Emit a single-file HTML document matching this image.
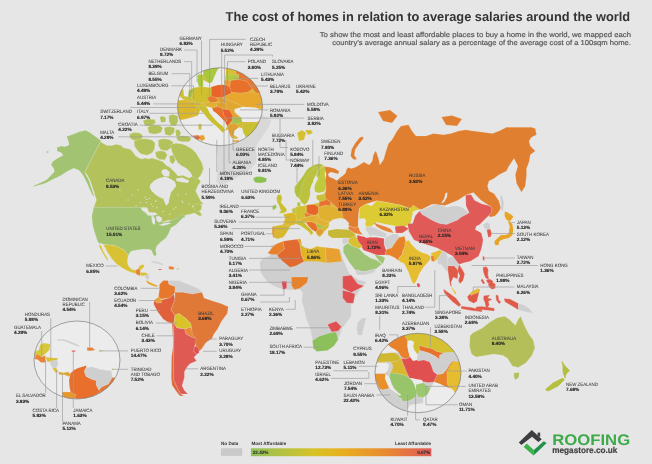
<!DOCTYPE html><html><head><meta charset="utf-8"><title>The cost of homes in relation to average salaries around the world</title><style>
html,body{margin:0;padding:0;background:#e6e6e6;}svg{display:block}
.n{font-family:"Liberation Sans",sans-serif;font-size:4.8px;fill:#3d3d3d;stroke:#3d3d3d;stroke-width:0.05}
.v{font-family:"Liberation Sans",sans-serif;font-size:4.7px;font-weight:bold;fill:#222;stroke:#222;stroke-width:0.12} text{text-rendering:geometricPrecision}
.ln{fill:none;stroke:#9a9a9a;stroke-width:0.65}
</style></head><body>
<svg width="652" height="464" viewBox="0 0 652 464">
<defs>
<clipPath id="ceu"><ellipse cx="220" cy="106.7" rx="42.5" ry="39"/></clipPath>
<clipPath id="cme"><ellipse cx="418" cy="373" rx="43" ry="39.7"/></clipPath>
<clipPath id="cca"><ellipse cx="77" cy="360" rx="43" ry="39"/></clipPath>
<linearGradient id="lg" x1="0" x2="1" y1="0" y2="0"><stop offset="0" stop-color="#8fc05a"/><stop offset="0.35" stop-color="#d8c228"/><stop offset="0.5" stop-color="#e8b020"/><stop offset="0.75" stop-color="#e88a30"/><stop offset="1" stop-color="#e05858"/></linearGradient>
</defs>
<rect width="652" height="464" fill="#e6e6e6"/>
<g stroke-linejoin="round">
<polygon points="66.6,136.4 71.7,134.7 78.6,132.1 85.5,130.3 89.0,132.0 94.1,135.5 101.0,140.7 84.7,172.6 87.2,176.9 89.0,180.3 90.7,185.5 92.4,190.7 94.1,195.9 93.0,196.0 90.0,190.0 87.0,183.0 84.0,177.0 81.0,172.5 78.6,170.0 73.4,168.3 70.0,170.0 66.6,171.7 61.4,175.2 56.2,177.8 51.0,180.3 45.9,183.0 40.7,184.7 37.2,185.5 33.8,186.4 33.5,185.5 37.0,184.2 42.0,182.0 47.0,179.5 49.3,176.9 54.5,171.7 53.6,168.3 51.0,164.8 52.8,161.4 57.9,157.9 63.1,155.3 61.4,152.8 57.0,151.0 57.0,147.6 61.4,145.9 64.8,146.7 69.1,145.0 68.3,140.7" fill="#a2c472" stroke="#f4f4f4" stroke-opacity="0.55" stroke-width="0.3"/>
<polygon points="46.5,151.5 48.5,151.0 48.5,152.8 46.8,153.0" fill="#a2c472" stroke="#f4f4f4" stroke-opacity="0.55" stroke-width="0.3"/>
<polygon points="101.0,140.7 101.5,142.5 106.8,145.5 111.6,145.5 116.3,144.3 121.1,145.5 123.4,147.8 127.0,148.4 130.5,149.6 132.9,152.0 135.3,155.5 138.8,157.9 142.4,159.1 144.8,157.9 148.3,159.1 151.9,157.9 155.4,159.1 159.0,160.3 162.5,161.5 166.8,165.8 169.8,167.3 172.8,170.3 175.8,173.3 178.0,176.0 182.7,175.3 189.0,178.0 194.3,175.3 197.0,177.0 200.8,181.8 198.2,185.0 195.6,190.9 198.2,196.0 200.8,201.2 203.4,203.8 199.5,205.1 194.3,205.1 191.7,206.4 197.0,209.0 200.8,212.9 202.1,215.5 199.5,216.1 194.3,212.9 190.5,214.2 186.6,214.8 182.7,216.7 178.8,218.0 175.0,219.3 172.3,220.6 168.4,220.2 162.6,222.0 159.7,224.0 154.8,218.3 152.0,214.4 149.0,212.5 147.0,207.6 93.7,207.6 95.0,204.0 96.5,200.0 95.5,197.0 94.0,192.0 92.0,186.0 90.0,180.0 87.0,174.5 84.7,172.6" fill="#b4c25c" stroke="#f4f4f4" stroke-opacity="0.55" stroke-width="0.3"/>
<polygon points="150.3,184.4 154.2,180.5 159.4,177.9 165.9,176.6 171.0,179.2 174.9,181.8 176.2,185.7 173.6,189.6 171.0,192.2 169.8,197.3 168.5,202.5 166.5,206.0 164.6,202.5 163.3,198.6 159.4,197.3 155.5,194.8 151.6,190.9 149.7,187.6" fill="#e6e6e6"/>
<polygon points="162.0,170.0 166.0,169.0 169.8,172.0 169.0,176.6 164.0,176.0 161.5,173.0" fill="#e6e6e6"/>
<polygon points="176.0,178.5 182.0,177.5 189.0,180.5 188.0,183.0 181.0,182.0 176.5,181.0" fill="#e6e6e6"/>
<polygon points="129.5,134.0 134.0,132.6 140.0,133.0 143.0,136.0 141.0,140.0 134.0,140.5 130.0,138.0" fill="#b4c25c" stroke="#f4f4f4" stroke-opacity="0.55" stroke-width="0.3"/>
<polygon points="134.0,141.0 140.0,139.0 146.0,138.7 152.0,140.0 155.0,143.0 154.5,149.0 152.0,153.0 147.0,155.3 141.0,154.0 137.0,150.0 134.5,146.0" fill="#b4c25c" stroke="#f4f4f4" stroke-opacity="0.55" stroke-width="0.3"/>
<polygon points="143.0,120.5 148.0,119.0 155.0,119.5 155.5,123.0 151.0,126.0 145.0,126.0" fill="#b4c25c" stroke="#f4f4f4" stroke-opacity="0.55" stroke-width="0.3"/>
<polygon points="159.7,117.0 163.0,116.0 166.0,118.0 165.5,122.0 161.0,122.5" fill="#b4c25c" stroke="#f4f4f4" stroke-opacity="0.55" stroke-width="0.3"/>
<polygon points="168.8,115.5 173.0,114.5 177.8,116.0 178.0,121.0 176.0,126.0 171.0,125.5 169.0,121.0" fill="#b4c25c" stroke="#f4f4f4" stroke-opacity="0.55" stroke-width="0.3"/>
<polygon points="147.6,127.0 153.0,125.0 160.0,125.5 162.7,128.0 161.0,132.5 155.0,134.2 149.0,133.0" fill="#b4c25c" stroke="#f4f4f4" stroke-opacity="0.55" stroke-width="0.3"/>
<polygon points="164.2,127.5 170.0,126.6 174.8,128.0 174.0,133.0 170.0,135.7 165.0,134.5" fill="#b4c25c" stroke="#f4f4f4" stroke-opacity="0.55" stroke-width="0.3"/>
<polygon points="175.5,130.0 179.0,129.6 180.8,133.0 179.5,137.2 176.0,136.0" fill="#b4c25c" stroke="#f4f4f4" stroke-opacity="0.55" stroke-width="0.3"/>
<polygon points="176.3,137.0 182.0,135.7 188.0,136.2 191.4,138.5 189.0,141.7 182.0,141.7 177.5,140.5" fill="#b4c25c" stroke="#f4f4f4" stroke-opacity="0.55" stroke-width="0.3"/>
<polygon points="158.2,140.0 163.0,138.7 169.0,139.5 173.3,142.0 172.0,147.0 167.0,150.8 161.0,150.0 158.5,146.0" fill="#b4c25c" stroke="#f4f4f4" stroke-opacity="0.55" stroke-width="0.3"/>
<polygon points="155.2,152.0 160.0,150.8 165.0,151.5 167.3,155.0 165.0,159.8 159.0,159.5 156.0,156.5" fill="#b4c25c" stroke="#f4f4f4" stroke-opacity="0.55" stroke-width="0.3"/>
<polygon points="170.3,144.5 176.0,143.2 182.0,144.0 187.0,146.0 192.0,149.0 196.0,153.0 199.0,158.0 202.0,163.0 203.5,169.0 201.0,175.0 197.0,179.4 193.0,177.0 190.0,172.0 186.0,168.0 182.0,166.0 178.0,163.0 175.0,158.0 172.0,152.0" fill="#b4c25c" stroke="#f4f4f4" stroke-opacity="0.55" stroke-width="0.3"/>
<polygon points="169.5,156.0 173.5,155.0 175.5,160.0 173.0,164.3 170.0,162.0" fill="#b4c25c" stroke="#f4f4f4" stroke-opacity="0.55" stroke-width="0.3"/>
<polygon points="145.9,197.3 145.6,197.8 144.8,197.8 144.5,197.3 144.8,196.8 145.6,196.8" fill="#e6e6e6"/>
<polygon points="147.2,202.5 146.8,203.0 146.2,203.0 145.8,202.5 146.2,202.0 146.8,202.0" fill="#e6e6e6"/>
<polygon points="149.7,198.6 149.3,199.1 148.7,199.1 148.3,198.6 148.7,198.1 149.3,198.1" fill="#e6e6e6"/>
<polygon points="153.7,206.4 153.3,206.9 152.7,206.9 152.3,206.4 152.7,205.9 153.3,205.9" fill="#e6e6e6"/>
<polygon points="156.2,201.2 155.8,201.7 155.2,201.7 154.8,201.2 155.2,200.7 155.8,200.7" fill="#e6e6e6"/>
<polygon points="157.5,207.7 157.2,208.2 156.4,208.2 156.1,207.7 156.4,207.2 157.2,207.2" fill="#e6e6e6"/>
<polygon points="164.0,211.6 163.7,212.1 162.9,212.1 162.6,211.6 162.9,211.1 163.7,211.1" fill="#e6e6e6"/>
<polygon points="170.5,214.2 170.2,214.7 169.4,214.7 169.1,214.2 169.4,213.7 170.2,213.7" fill="#e6e6e6"/>
<polygon points="174.3,209.0 173.9,209.5 173.2,209.5 172.9,209.0 173.2,208.5 173.9,208.5" fill="#e6e6e6"/>
<polygon points="183.4,202.5 183.1,203.0 182.3,203.0 182.0,202.5 182.3,202.0 183.1,202.0" fill="#e6e6e6"/>
<polygon points="189.9,203.8 189.6,204.3 188.8,204.3 188.5,203.8 188.8,203.3 189.6,203.3" fill="#e6e6e6"/>
<polygon points="136.7,205.7 136.3,206.2 135.7,206.2 135.3,205.7 135.7,205.2 136.3,205.2" fill="#e6e6e6"/>
<polygon points="141.3,202.7 140.9,203.2 140.2,203.2 139.9,202.7 140.2,202.2 140.9,202.2" fill="#e6e6e6"/>
<polygon points="147.4,199.6 147.1,200.1 146.3,200.1 146.0,199.6 146.3,199.1 147.1,199.1" fill="#e6e6e6"/>
<polygon points="152.0,204.2 151.7,204.7 150.9,204.7 150.6,204.2 150.9,203.7 151.7,203.7" fill="#e6e6e6"/>
<polygon points="156.7,201.1 156.3,201.6 155.7,201.6 155.3,201.1 155.7,200.6 156.3,200.6" fill="#e6e6e6"/>
<polygon points="162.7,198.0 162.3,198.5 161.7,198.5 161.3,198.0 161.7,197.5 162.3,197.5" fill="#e6e6e6"/>
<polygon points="168.9,202.7 168.6,203.2 167.8,203.2 167.5,202.7 167.8,202.2 168.6,202.2" fill="#e6e6e6"/>
<polygon points="176.6,207.3 176.2,207.8 175.6,207.8 175.2,207.3 175.6,206.8 176.2,206.8" fill="#e6e6e6"/>
<polygon points="182.7,201.1 182.3,201.6 181.7,201.6 181.3,201.1 181.7,200.6 182.3,200.6" fill="#e6e6e6"/>
<polygon points="128.7,200.0 128.3,200.5 127.7,200.5 127.3,200.0 127.7,199.5 128.3,199.5" fill="#e6e6e6"/>
<polygon points="132.7,195.0 132.3,195.5 131.7,195.5 131.3,195.0 131.7,194.5 132.3,194.5" fill="#e6e6e6"/>
<polygon points="120.7,190.0 120.3,190.5 119.7,190.5 119.3,190.0 119.7,189.5 120.3,189.5" fill="#e6e6e6"/>
<polygon points="138.7,190.0 138.3,190.5 137.7,190.5 137.3,190.0 137.7,189.5 138.3,189.5" fill="#e6e6e6"/>
<polygon points="178.7,195.0 178.3,195.5 177.7,195.5 177.3,195.0 177.7,194.5 178.3,194.5" fill="#e6e6e6"/>
<polygon points="186.7,194.0 186.3,194.5 185.7,194.5 185.3,194.0 185.7,193.5 186.3,193.5" fill="#e6e6e6"/>
<polygon points="93.7,207.3 140.6,207.3 142.1,210.3 145.2,212.6 150.0,213.5 157.5,214.5 160.0,217.0 162.0,220.0 162.5,222.6 169.8,221.0 177.4,218.0 181.0,214.5 183.6,215.0 185.5,217.5 183.3,217.5 179.2,221.6 176.1,224.7 171.0,227.8 168.9,232.9 165.9,238.0 160.7,242.1 156.6,246.2 155.6,250.3 156.6,254.4 154.6,256.5 152.5,253.0 151.5,250.3 148.4,249.3 142.3,249.3 136.1,250.3 131.6,250.9 129.5,253.1 128.4,255.8 127.3,254.2 124.1,249.9 120.9,248.8 117.6,246.6 114.4,245.5 104.7,244.5 98.2,242.8 95.7,235.7 92.8,226.0 91.8,216.3" fill="#a2c472" stroke="#f4f4f4" stroke-opacity="0.55" stroke-width="0.3"/>
<polygon points="145.5,213.0 150.0,212.3 156.0,212.8 157.5,214.5 153.0,215.7 148.0,215.5" fill="#e6e6e6"/>
<polygon points="151.3,216.5 153.5,216.0 155.0,219.0 155.0,223.5 153.5,225.0 152.0,222.0" fill="#e6e6e6"/>
<polygon points="156.0,216.5 159.0,216.0 162.0,218.0 161.5,221.5 158.5,222.6 156.5,220.0" fill="#e6e6e6"/>
<polygon points="158.5,225.0 163.0,223.5 168.0,222.5 171.3,223.0 168.0,224.5 163.0,225.7" fill="#e6e6e6"/>
<polygon points="103.1,244.5 114.4,245.5 117.6,246.6 120.9,248.8 124.1,249.9 127.3,254.2 128.4,255.8 127.9,257.4 127.3,261.7 128.4,266.0 131.6,269.3 136.0,270.3 138.1,268.7 139.2,266.0 142.4,264.4 144.6,264.9 143.5,267.6 140.3,270.3 138.1,272.5 136.0,273.6 131.6,272.5 126.3,270.3 120.9,267.1 116.6,263.9 113.3,260.6 110.1,256.3 107.4,252.0 105.2,247.7" fill="#d8c234" stroke="#f4f4f4" stroke-opacity="0.55" stroke-width="0.3"/>
<polygon points="98.8,243.4 101.5,246.6 103.6,252.0 106.9,257.4 108.5,260.6 106.9,260.1 104.2,255.8 101.5,250.9 99.3,246.6" fill="#d8c234" stroke="#f4f4f4" stroke-opacity="0.55" stroke-width="0.3"/>
<polygon points="136.0,270.3 138.1,268.7 140.3,270.3 140.3,275.7 137.5,275.0 135.5,273.2" fill="#e8843a" stroke="#f4f4f4" stroke-opacity="0.55" stroke-width="0.3"/>
<polygon points="140.3,272.5 145.6,272.5 148.9,274.6 144.6,275.7 140.3,275.7" fill="#d8c234" stroke="#f4f4f4" stroke-opacity="0.55" stroke-width="0.3"/>
<polygon points="144.6,275.2 148.9,274.6 149.4,279.0 146.7,279.5 145.1,277.3" fill="#cfcfcf" stroke="#f4f4f4" stroke-opacity="0.55" stroke-width="0.3"/>
<polygon points="146.2,280.0 150.0,282.2 154.3,284.3 157.5,285.4 157.0,287.0 153.2,286.0 148.9,284.3 146.7,282.2" fill="#e0a830" stroke="#f4f4f4" stroke-opacity="0.55" stroke-width="0.3"/>
<polygon points="150.9,261.5 154.0,260.8 158.0,261.8 162.0,263.2 163.8,264.6 162.0,265.2 158.0,264.0 154.0,263.0 151.0,262.6" fill="#d2d2d2" stroke="#f4f4f4" stroke-opacity="0.55" stroke-width="0.3"/>
<polygon points="168.6,266.6 171.5,266.2 174.6,267.5 173.5,269.4 170.0,269.4 168.6,268.5" fill="#e8843a" stroke="#f4f4f4" stroke-opacity="0.55" stroke-width="0.3"/>
<polygon points="158.4,269.0 161.6,268.9 161.6,270.0 158.4,270.0" fill="#e05060" stroke="#f4f4f4" stroke-opacity="0.55" stroke-width="0.3"/>
<polygon points="176.7,268.3 178.9,268.3 178.9,269.4 176.7,269.4" fill="#a8c870" stroke="#f4f4f4" stroke-opacity="0.55" stroke-width="0.3"/>
<polygon points="271.5,120.5 268.7,127.5 264.8,133.3 260.9,139.1 257.0,145.0 256.0,150.0 257.0,156.0 256.0,163.0 252.0,168.0 246.0,172.0 239.6,176.0 230.0,181.8 220.2,185.6 216.3,181.8 217.3,168.2 218.3,158.5 216.3,148.8 214.0,130.0 212.0,110.0 218.0,100.0 235.0,98.0 250.0,103.0 258.0,110.0 264.0,116.0" fill="#d8d8d8" stroke="#f4f4f4" stroke-opacity="0.55" stroke-width="0.3"/>
<polygon points="253.3,178.0 257.0,176.5 262.0,176.8 266.9,178.5 266.0,182.0 261.0,183.0 256.0,182.7 254.0,181.0" fill="#8cc050" stroke="#f4f4f4" stroke-opacity="0.55" stroke-width="0.3"/>
<polygon points="159.4,284.4 163.3,280.5 168.1,280.5 169.1,284.4 175.0,286.3 175.0,292.2 174.0,294.1 169.1,298.0 161.3,299.0 158.4,297.0 159.4,290.2" fill="#e6782c" stroke="#f4f4f4" stroke-opacity="0.55" stroke-width="0.3"/>
<polygon points="168.1,280.5 178.8,280.5 188.5,284.4 198.2,288.3 202.0,292.2 192.4,294.1 182.7,292.2 175.0,292.2 175.0,286.3 169.1,284.4" fill="#cfcfcf" stroke="#f4f4f4" stroke-opacity="0.55" stroke-width="0.3"/>
<polygon points="158.4,297.0 161.3,299.0 161.5,302.8 157.0,303.0 154.5,300.0" fill="#e4a030" stroke="#f4f4f4" stroke-opacity="0.55" stroke-width="0.3"/>
<polygon points="154.5,300.0 157.0,303.0 161.5,302.8 161.3,300.0 169.1,298.0 174.0,294.1 175.0,300.0 171.0,309.6 175.0,315.4 174.0,323.2 172.0,323.2 168.1,322.2 163.3,319.3 157.5,311.6 153.6,304.0" fill="#e0603c" stroke="#f4f4f4" stroke-opacity="0.55" stroke-width="0.3"/>
<polygon points="175.0,292.2 182.7,292.2 192.4,294.1 202.0,292.2 204.0,298.0 209.8,300.0 221.5,303.8 228.3,306.7 227.3,313.5 221.5,321.3 217.6,329.0 214.0,334.0 211.8,338.7 206.0,342.6 202.0,348.4 198.2,352.3 196.3,346.5 192.4,338.7 191.4,327.1 190.4,323.2 185.6,318.3 178.8,313.5 175.0,315.4 171.0,309.6 175.0,300.0" fill="#e07838" stroke="#f4f4f4" stroke-opacity="0.55" stroke-width="0.3"/>
<polygon points="175.0,315.4 178.8,313.5 185.6,318.3 190.4,323.2 191.4,327.1 184.6,329.0 176.9,328.0 174.0,323.2" fill="#d8c428" stroke="#f4f4f4" stroke-opacity="0.55" stroke-width="0.3"/>
<polygon points="184.6,329.0 191.4,327.1 192.4,334.0 196.0,338.7 191.4,337.0 186.0,334.0" fill="#e8883a" stroke="#f4f4f4" stroke-opacity="0.55" stroke-width="0.3"/>
<polygon points="194.5,346.0 198.0,347.0 199.2,352.6 196.6,354.6 193.5,351.0" fill="#e05050" stroke="#f4f4f4" stroke-opacity="0.55" stroke-width="0.3"/>
<polygon points="172.0,323.2 174.0,323.2 173.7,332.0 173.7,353.7 173.7,367.9 173.7,379.8 177.3,388.0 180.8,394.0 184.0,396.0 180.0,396.0 176.0,391.0 172.0,385.0 171.3,377.4 171.6,356.7 172.9,347.7 173.0,338.0" fill="#e06838" stroke="#f4f4f4" stroke-opacity="0.55" stroke-width="0.3"/>
<polygon points="174.0,323.2 176.9,328.0 184.6,329.0 186.0,334.0 191.4,337.0 196.0,338.7 195.0,345.0 193.5,351.0 196.6,354.6 194.0,357.2 196.6,361.0 190.2,363.6 187.6,366.2 184.4,371.5 184.4,377.4 182.0,385.7 184.4,390.4 188.0,394.0 180.8,394.0 177.3,388.0 173.7,379.8 173.7,353.7 174.0,333.0" fill="#de5a52" stroke="#f4f4f4" stroke-opacity="0.55" stroke-width="0.3"/>
<polygon points="272.3,226.4 278.8,225.4 283.1,224.3 284.1,222.1 285.2,217.8 283.1,214.6 287.4,213.5 292.8,212.5 293.8,209.2 296.0,207.0 298.1,206.0 297.0,202.8 300.3,202.2 300.3,206.0 303.5,206.0 306.8,204.9 314.3,203.8 318.6,202.8 319.7,198.5 320.7,194.0 326.0,192.0 330.0,200.0 336.0,207.0 342.0,212.0 344.0,216.0 346.0,221.0 340.0,219.5 333.0,220.0 329.4,224.3 328.3,227.5 326.1,229.7 324.0,231.8 321.8,235.0 319.7,237.2 317.5,235.0 315.4,230.8 311.0,226.4 306.8,223.2 303.5,222.1 306.8,225.4 311.0,229.7 313.2,232.9 311.0,235.0 308.9,231.8 304.6,228.6 300.3,225.4 297.0,224.3 294.9,224.3 291.1,225.4 289.5,227.5 286.3,232.9 283.1,237.2 277.7,238.8 273.4,237.2 272.3,232.9" fill="#d8b830" stroke="#f4f4f4" stroke-opacity="0.55" stroke-width="0.3"/>
<polygon points="277.5,195.0 281.0,194.5 282.0,198.0 281.0,202.8 284.1,206.0 286.8,209.2 286.3,211.9 283.1,213.0 278.8,213.5 281.0,210.8 279.8,208.1 278.8,205.0 277.1,201.7 276.5,198.0" fill="#c8c030" stroke="#f4f4f4" stroke-opacity="0.55" stroke-width="0.3"/>
<polygon points="272.3,206.0 276.1,204.4 276.6,208.1 272.8,210.3" fill="#9cc050" stroke="#f4f4f4" stroke-opacity="0.55" stroke-width="0.3"/>
<polygon points="283.1,214.6 287.4,213.5 292.8,212.5 296.0,214.6 296.5,220.0 294.9,224.3 291.1,225.4 286.3,224.3 284.1,222.1 285.2,217.8" fill="#dcb828" stroke="#f4f4f4" stroke-opacity="0.55" stroke-width="0.3"/>
<polygon points="272.8,226.4 278.8,225.4 286.3,225.4 289.5,227.5 286.3,232.9 283.1,237.2 277.7,238.8 273.4,237.2 272.3,232.9" fill="#d8b830" stroke="#f4f4f4" stroke-opacity="0.55" stroke-width="0.3"/>
<polygon points="272.3,227.0 274.8,227.0 274.8,237.5 273.0,237.2 272.0,232.0" fill="#e0a030" stroke="#f4f4f4" stroke-opacity="0.55" stroke-width="0.3"/>
<polygon points="291.7,209.0 296.0,207.5 296.5,213.5 292.8,213.0" fill="#b8c448" stroke="#f4f4f4" stroke-opacity="0.55" stroke-width="0.3"/>
<polygon points="296.0,207.0 303.5,206.0 305.7,208.1 305.7,213.5 304.6,217.8 299.2,220.0 296.5,218.9 296.0,213.5" fill="#d0c030" stroke="#f4f4f4" stroke-opacity="0.55" stroke-width="0.3"/>
<polygon points="297.0,202.8 300.3,202.5 300.3,206.0 297.5,206.5" fill="#a8c848" stroke="#f4f4f4" stroke-opacity="0.55" stroke-width="0.3"/>
<polygon points="306.8,204.9 314.3,204.4 318.6,207.0 318.6,212.5 315.4,215.1 310.0,214.6 306.8,212.5" fill="#e8642a" stroke="#f4f4f4" stroke-opacity="0.55" stroke-width="0.3"/>
<polygon points="304.6,212.5 310.0,214.6 311.0,216.2 305.0,217.0" fill="#e87a30" stroke="#f4f4f4" stroke-opacity="0.55" stroke-width="0.3"/>
<polygon points="299.2,220.0 304.6,217.8 311.0,216.2 318.0,215.0 322.0,218.0 320.0,221.0 312.0,222.0 305.0,221.5 300.0,221.5" fill="#e0b030" stroke="#f4f4f4" stroke-opacity="0.55" stroke-width="0.3"/>
<polygon points="297.0,221.0 302.4,221.0 306.8,225.4 311.0,229.7 313.2,232.9 311.0,235.0 308.9,231.8 304.6,228.6 300.3,225.4 297.0,224.3" fill="#c8c030" stroke="#f4f4f4" stroke-opacity="0.55" stroke-width="0.3"/>
<polygon points="306.0,222.0 312.0,222.0 316.0,224.0 318.0,229.0 316.0,232.0 312.0,229.7 308.0,225.4" fill="#e8702a" stroke="#f4f4f4" stroke-opacity="0.55" stroke-width="0.3"/>
<polygon points="316.0,224.0 322.0,223.0 326.0,226.0 322.0,228.5 318.0,229.0" fill="#b0c040" stroke="#f4f4f4" stroke-opacity="0.55" stroke-width="0.3"/>
<polygon points="316.0,232.0 318.0,229.0 322.0,228.5 324.0,232.0 320.0,236.0 317.0,235.0" fill="#e0a030" stroke="#f4f4f4" stroke-opacity="0.55" stroke-width="0.3"/>
<polygon points="318.0,215.0 320.0,219.0 325.0,221.0 329.0,222.0 329.0,224.0 324.0,226.0 320.0,225.0 316.0,222.0 317.0,218.0" fill="#e0b030" stroke="#f4f4f4" stroke-opacity="0.55" stroke-width="0.3"/>
<polygon points="318.6,207.0 326.0,205.0 336.0,207.0 342.0,212.0 344.0,216.0 346.0,221.0 342.0,221.0 338.0,220.0 333.0,221.0 329.0,222.0 325.0,221.0 320.0,219.0 318.0,215.0 318.6,212.5" fill="#e0b030" stroke="#f4f4f4" stroke-opacity="0.55" stroke-width="0.3"/>
<polygon points="318.6,207.0 320.0,201.0 326.0,199.0 331.0,202.0 330.0,206.0 326.0,205.0" fill="#e87030" stroke="#f4f4f4" stroke-opacity="0.55" stroke-width="0.3"/>
<polygon points="316.5,195.0 324.0,194.5 326.0,197.0 325.0,200.5 320.0,201.5 316.5,199.0" fill="#c8c038" stroke="#f4f4f4" stroke-opacity="0.55" stroke-width="0.3"/>
<polygon points="328.0,230.5 336.5,229.0 347.0,229.5 349.5,230.0 354.4,233.0 356.0,236.0 351.6,238.0 342.0,238.0 332.0,238.0 328.0,235.0" fill="#c8b838" stroke="#f4f4f4" stroke-opacity="0.55" stroke-width="0.3"/>
<polygon points="294.7,192.0 294.7,187.1 297.6,183.3 300.5,179.4 303.4,175.5 306.3,170.7 309.2,167.8 313.1,165.8 317.0,163.9 320.9,163.9 323.8,165.8 318.0,170.0 316.0,175.0 314.1,178.4 313.1,182.3 311.2,186.2 310.2,190.0 310.2,193.9 309.2,198.8 307.3,202.6 304.4,205.0 301.0,202.0 299.5,198.8 296.6,196.8" fill="#bcc23e" stroke="#f4f4f4" stroke-opacity="0.55" stroke-width="0.3"/>
<polygon points="294.7,192.0 294.7,187.1 297.6,183.3 300.5,179.4 303.4,175.5 306.3,170.7 309.2,167.8 313.1,165.8 317.0,163.9 320.9,163.9 323.8,165.8 319.0,166.5 314.0,168.0 310.0,171.0 307.0,175.0 304.0,180.0 302.0,186.0 301.0,192.0 300.0,197.0 296.6,196.8" fill="#b2c040" stroke="#f4f4f4" stroke-opacity="0.55" stroke-width="0.3"/>
<polygon points="318.0,170.0 323.8,165.8 325.7,169.7 324.7,174.5 325.7,179.4 326.7,184.2 325.7,189.1 323.8,192.0 318.9,192.9 315.0,192.0 314.1,188.1 315.0,184.2 317.0,180.3 318.0,178.4 316.0,175.0" fill="#c0c83c" stroke="#f4f4f4" stroke-opacity="0.55" stroke-width="0.3"/>
<polygon points="297.0,133.0 302.0,130.0 306.0,133.0 304.0,140.0 299.0,141.0" fill="#d4c030" stroke="#f4f4f4" stroke-opacity="0.55" stroke-width="0.3"/>
<polygon points="305.0,130.0 311.0,130.0 313.0,133.0 308.0,135.0" fill="#d4c030" stroke="#f4f4f4" stroke-opacity="0.55" stroke-width="0.3"/>
<polygon points="323.0,166.6 329.0,167.0 334.6,168.4 339.2,171.2 338.2,173.9 334.6,173.0 330.9,172.1 328.0,174.0 329.0,176.7 330.9,177.6 333.6,178.5 336.4,180.4 339.2,178.5 340.0,177.6 342.8,175.8 345.6,173.0 346.5,169.3 348.4,167.5 351.1,168.4 354.8,167.5 358.5,165.6 361.2,163.8 364.0,162.0 366.8,163.8 369.5,164.7 372.3,161.0 373.2,155.5 375.0,151.8 376.0,151.0 378.5,158.5 379.8,164.8 383.5,159.8 386.0,151.0 388.5,143.5 392.0,139.8 397.0,131.0 401.0,126.0 408.5,124.8 412.0,131.0 416.0,136.0 426.0,136.0 433.5,133.5 443.5,134.8 451.0,133.5 458.5,131.0 466.0,129.8 470.0,130.6 481.2,132.0 492.4,133.4 499.0,131.0 506.5,127.3 519.0,127.3 531.5,127.3 535.3,128.5 536.5,134.8 531.5,137.3 529.0,141.0 530.3,146.0 535.3,151.0 530.3,154.8 529.0,162.3 526.5,168.5 526.5,176.0 525.3,186.0 521.5,192.3 516.5,183.5 515.3,174.8 517.8,166.0 514.0,158.5 509.0,166.0 506.5,171.0 499.0,174.8 494.0,178.5 489.0,181.0 487.5,186.0 489.0,191.0 494.0,193.5 499.0,201.0 500.8,208.0 498.6,212.0 495.0,216.0 491.0,217.0 488.3,215.9 491.7,212.4 491.7,207.2 481.0,200.3 473.4,192.6 465.6,195.2 457.9,200.3 445.0,205.5 432.0,204.2 421.7,209.4 410.4,208.5 400.0,205.0 384.6,202.0 376.8,200.8 366.0,204.0 359.3,208.2 358.5,214.0 358.3,219.5 358.3,226.3 355.0,228.0 349.5,226.0 345.0,222.0 343.0,217.0 342.0,212.0 336.0,207.0 331.0,202.0 326.0,199.0 325.0,196.0 326.2,186.8 325.3,180.4 326.2,174.0 324.5,167.5" fill="#e07f30" stroke="#f4f4f4" stroke-opacity="0.55" stroke-width="0.3"/>
<polygon points="362.6,136.6 363.5,138.4 359.0,144.0 355.2,149.5 354.3,155.0 357.0,159.6 353.4,159.6 350.6,155.9 351.6,149.5 355.2,143.0 359.9,137.5" fill="#e07f30" stroke="#f4f4f4" stroke-opacity="0.55" stroke-width="0.3"/>
<polygon points="378.0,112.0 390.0,110.0 397.5,116.0 392.0,123.0 383.0,121.0" fill="#e07f30" stroke="#f4f4f4" stroke-opacity="0.55" stroke-width="0.3"/>
<polygon points="441.4,117.0 452.0,115.5 462.0,119.0 457.0,126.0 446.0,125.0" fill="#e07f30" stroke="#f4f4f4" stroke-opacity="0.55" stroke-width="0.3"/>
<polygon points="500.0,196.0 502.0,195.0 504.0,203.0 503.0,211.0 501.0,210.0 501.0,203.0" fill="#cfcfcf" stroke="#f4f4f4" stroke-opacity="0.55" stroke-width="0.3"/>
<polygon points="359.3,208.2 366.0,204.0 371.7,206.0 376.8,200.8 384.6,202.0 400.0,205.0 410.4,208.5 413.0,205.0 419.6,209.3 413.0,211.5 411.0,222.2 405.6,226.5 398.0,226.5 387.3,224.4 376.5,222.2 371.1,226.5 366.5,227.0 365.0,224.0 366.0,220.5 364.1,218.6 359.3,218.8" fill="#dccb32" stroke="#f4f4f4" stroke-opacity="0.55" stroke-width="0.3"/>
<polygon points="419.6,210.9 424.5,208.4 431.9,206.0 434.4,204.1 440.5,205.3 446.6,207.2 452.8,206.0 458.9,206.0 463.8,208.4 469.3,212.7 466.3,214.5 461.3,217.0 457.7,220.0 451.5,222.5 446.6,224.4 440.5,223.7 435.6,221.9 430.7,219.4 425.8,216.4 422.1,214.5" fill="#cfcfcf" stroke="#f4f4f4" stroke-opacity="0.55" stroke-width="0.3"/>
<polygon points="445.5,193.0 447.5,192.5 447.0,197.0 444.5,201.5 442.0,203.5 441.5,202.5 444.0,199.0" fill="#e6e6e6"/>
<polygon points="465.6,195.2 471.0,194.5 474.5,200.3 481.4,203.8 488.3,205.5 491.7,207.2 491.7,212.4 488.3,215.9 483.1,221.0 479.7,224.5 476.2,226.2 475.3,229.7 478.8,231.4 481.4,233.1 482.2,236.6 483.1,240.0 482.2,245.2 481.0,250.0 478.5,256.3 470.4,261.2 464.0,262.8 459.0,264.4 455.0,261.0 452.7,255.9 445.0,252.0 437.2,248.0 429.4,245.6 421.7,243.0 414.0,240.0 408.8,231.3 407.5,223.6 412.6,223.6 415.2,215.8 419.6,210.9 422.1,214.5 425.8,216.4 430.7,219.4 435.6,221.9 440.5,223.7 446.6,224.4 451.5,222.5 457.7,220.0 461.3,217.0 466.3,214.5 469.3,212.7 466.0,206.0" fill="#e05a58" stroke="#f4f4f4" stroke-opacity="0.55" stroke-width="0.3"/>
<polygon points="365.0,229.2 366.5,227.0 371.1,226.5 376.5,228.7 383.0,231.9 387.3,234.1 385.1,237.3 378.7,236.2 372.2,235.1 369.9,237.0 368.0,233.1" fill="#cfcfcf" stroke="#f4f4f4" stroke-opacity="0.55" stroke-width="0.3"/>
<polygon points="373.3,222.2 378.7,224.4 385.1,226.5 390.5,228.7 393.8,233.0 388.4,231.9 381.9,229.8 376.5,226.5" fill="#e8843a" stroke="#f4f4f4" stroke-opacity="0.55" stroke-width="0.3"/>
<polygon points="394.8,226.5 403.4,225.5 408.8,228.7 402.4,233.0 395.9,233.0" fill="#e05a50" stroke="#f4f4f4" stroke-opacity="0.55" stroke-width="0.3"/>
<polygon points="385.1,237.3 392.7,234.1 398.0,234.1 399.1,237.3 395.9,241.6 391.6,248.1 387.3,249.1 384.1,244.8" fill="#cfcfcf" stroke="#f4f4f4" stroke-opacity="0.55" stroke-width="0.3"/>
<polygon points="357.2,235.1 361.5,236.2 367.9,237.3 376.5,237.3 384.1,238.4 384.1,244.8 386.2,250.2 385.1,255.0 376.5,255.0 370.1,252.4 363.6,250.2 359.3,243.8 357.2,239.4" fill="#e05050" stroke="#f4f4f4" stroke-opacity="0.55" stroke-width="0.3"/>
<polygon points="386.2,250.2 387.3,249.1 391.6,248.1 395.9,241.6 399.1,237.3 400.2,237.3 404.5,236.2 405.6,240.5 404.9,246.8 403.0,250.7 402.3,254.5 399.7,257.1 398.4,260.4 395.8,258.4 393.3,257.1 389.4,255.2 385.1,255.0" fill="#e8822a" stroke="#f4f4f4" stroke-opacity="0.55" stroke-width="0.3"/>
<polygon points="404.9,241.6 408.8,240.3 411.3,244.2 416.5,249.4 421.7,252.6 426.8,253.9 430.0,255.8 430.7,258.4 428.1,262.3 424.3,266.2 421.7,270.0 419.1,273.9 417.8,277.8 415.9,281.7 413.9,284.3 412.0,281.7 410.0,276.5 408.1,271.3 406.2,267.5 404.2,263.6 401.0,262.3 398.4,260.4 399.7,257.1 402.3,254.5 403.0,250.7 404.9,246.8" fill="#e6bd30" stroke="#f4f4f4" stroke-opacity="0.55" stroke-width="0.3"/>
<polygon points="430.7,253.3 434.6,252.0 439.8,250.0 442.4,251.3 439.8,255.8 437.2,259.7 434.6,261.0" fill="#e6bd30" stroke="#f4f4f4" stroke-opacity="0.55" stroke-width="0.3"/>
<polygon points="430.7,255.8 434.0,256.0 434.6,261.7 431.5,261.0" fill="#e8822a" stroke="#f4f4f4" stroke-opacity="0.55" stroke-width="0.3"/>
<polygon points="417.0,283.5 419.0,283.0 420.4,286.0 418.5,287.5 417.0,286.0" fill="#e05050" stroke="#f4f4f4" stroke-opacity="0.55" stroke-width="0.3"/>
<polygon points="437.2,259.7 439.8,255.8 442.4,251.3 446.0,252.0 447.8,258.0 447.8,266.0 447.8,272.5 445.0,270.0 442.0,265.0 438.0,264.0" fill="#cfcfcf" stroke="#f4f4f4" stroke-opacity="0.55" stroke-width="0.3"/>
<polygon points="447.8,258.0 452.7,255.9 459.0,264.4 457.5,270.8 454.2,266.0 447.8,266.0" fill="#cfcfcf" stroke="#f4f4f4" stroke-opacity="0.55" stroke-width="0.3"/>
<polygon points="447.8,266.0 454.2,266.0 458.3,270.8 457.5,278.9 453.4,277.3 451.0,282.2 451.8,287.0 450.2,285.4 448.6,275.7 447.8,269.2" fill="#e05a4a" stroke="#f4f4f4" stroke-opacity="0.55" stroke-width="0.3"/>
<polygon points="459.0,264.4 462.3,269.2 464.7,274.1 463.1,280.5 459.9,283.8 458.3,280.5 459.9,275.7 457.5,270.8" fill="#e05a4a" stroke="#f4f4f4" stroke-opacity="0.55" stroke-width="0.3"/>
<polygon points="451.0,285.4 454.2,290.2 456.7,293.5 455.0,294.3 452.6,290.0" fill="#e0c030" stroke="#f4f4f4" stroke-opacity="0.55" stroke-width="0.3"/>
<polygon points="443.7,289.4 449.4,293.5 455.8,298.3 460.7,304.8 459.0,306.4 452.6,301.5 447.8,296.7 444.5,292.7" fill="#e05a4a" stroke="#e05a4a" stroke-width="0.4"/>
<polygon points="461.5,306.5 470.0,307.5 481.7,310.0 481.7,311.5 470.0,310.0 461.5,308.5" fill="#e05a4a" stroke="#e05a4a" stroke-width="0.5"/>
<polygon points="467.2,296.7 472.0,291.8 477.7,288.6 480.0,289.4 478.5,295.0 476.8,301.5 473.6,303.2 468.8,300.7" fill="#e05a4a" stroke="#f4f4f4" stroke-opacity="0.55" stroke-width="0.3"/>
<polygon points="470.0,293.5 472.0,291.8 477.7,288.6 480.0,289.4 479.0,292.5 474.0,294.0 471.0,295.5" fill="#e0c030" stroke="#f4f4f4" stroke-opacity="0.55" stroke-width="0.3"/>
<polygon points="503.9,298.6 510.0,299.0 518.5,303.5 518.5,310.0 512.0,306.0 505.0,302.0" fill="#e05a4a" stroke="#f4f4f4" stroke-opacity="0.55" stroke-width="0.3"/>
<polygon points="518.5,303.5 524.0,305.0 530.0,309.0 533.0,313.2 526.0,312.0 518.5,310.0" fill="#cfcfcf" stroke="#f4f4f4" stroke-opacity="0.55" stroke-width="0.3"/>
<polygon points="482.6,256.5 484.5,256.5 484.5,260.4 482.8,260.0" fill="#e05a4a" stroke="#f4f4f4" stroke-opacity="0.55" stroke-width="0.3"/>
<polygon points="486.6,229.7 490.0,228.8 491.7,233.1 490.9,236.6 488.3,237.4 487.4,233.1" fill="#e05a4a" stroke="#f4f4f4" stroke-opacity="0.55" stroke-width="0.3"/>
<polygon points="483.0,224.5 487.0,222.0 490.0,224.0 490.0,228.8 486.6,229.7 484.0,228.0" fill="#cfcfcf" stroke="#f4f4f4" stroke-opacity="0.55" stroke-width="0.3"/>
<polygon points="349.5,226.0 355.0,228.0 358.3,226.3 360.2,231.2 363.1,235.0 358.0,234.0 354.4,233.0 349.5,230.0 348.0,228.0" fill="#e8843a" stroke="#f4f4f4" stroke-opacity="0.55" stroke-width="0.3"/>
<polygon points="349.0,238.5 356.0,236.0 357.8,240.7 362.6,246.5 358.8,248.4 352.0,246.0 348.0,242.0" fill="#d8c030" stroke="#f4f4f4" stroke-opacity="0.55" stroke-width="0.3"/>
<polygon points="343.0,238.0 349.0,238.5 348.0,242.0 344.0,245.0 342.0,242.0" fill="#cfcfcf" stroke="#f4f4f4" stroke-opacity="0.55" stroke-width="0.3"/>
<polygon points="343.3,246.5 348.0,243.0 352.0,246.0 358.8,248.4 364.6,254.3 370.4,258.1 376.2,260.0 382.0,264.0 376.2,268.8 364.6,271.7 354.9,269.8 349.0,262.0 343.3,252.3" fill="#9fc474" stroke="#f4f4f4" stroke-opacity="0.55" stroke-width="0.3"/>
<polygon points="374.3,254.3 382.0,256.2 385.0,258.0 383.0,264.0 379.0,261.0" fill="#9fc474" stroke="#f4f4f4" stroke-opacity="0.55" stroke-width="0.3"/>
<polygon points="354.9,269.8 364.6,271.7 376.2,268.8 374.0,272.5 365.0,275.0 357.0,275.0" fill="#cfcfcf" stroke="#f4f4f4" stroke-opacity="0.55" stroke-width="0.3"/>
<polygon points="271.6,245.1 269.4,255.9 263.0,258.0 259.7,262.3 260.8,273.1 267.2,281.7 273.7,286.0 282.3,289.3 291.0,290.3 299.6,289.3 302.8,292.5 301.7,301.0 303.7,307.3 305.9,318.0 310.2,328.8 312.4,339.6 313.4,348.2 316.7,351.5 327.5,350.4 333.9,346.1 338.2,339.6 340.4,333.1 342.6,327.7 351.2,315.9 351.2,305.1 354.4,298.6 359.8,290.0 366.4,281.7 357.8,279.6 349.1,273.1 342.7,258.0 340.5,249.4 325.4,247.2 321.1,247.2 310.3,249.4 301.7,245.0 300.6,239.7 282.3,241.9" fill="#cfcfcf" stroke="#f4f4f4" stroke-opacity="0.55" stroke-width="0.3"/>
<polygon points="357.7,322.4 362.0,318.0 366.3,318.0 364.1,326.7 362.0,335.3 357.7,335.3 356.6,328.8" fill="#cfcfcf" stroke="#f4f4f4" stroke-opacity="0.55" stroke-width="0.3"/>
<polygon points="267.6,253.2 273.2,246.2 277.4,243.4 283.0,241.3 284.5,249.0 277.4,254.6 271.8,254.6" fill="#e8822a" stroke="#f4f4f4" stroke-opacity="0.55" stroke-width="0.3"/>
<polygon points="283.0,241.3 287.3,240.6 297.1,239.2 299.9,243.4 301.3,254.6 304.1,261.6 295.7,265.9 290.0,267.3 283.0,261.6 277.4,256.0 277.4,254.6 284.5,249.0" fill="#e06a30" stroke="#f4f4f4" stroke-opacity="0.55" stroke-width="0.3"/>
<polygon points="297.1,239.2 300.5,238.8 302.0,244.8 299.9,243.4" fill="#e8a030" stroke="#f4f4f4" stroke-opacity="0.55" stroke-width="0.3"/>
<polygon points="299.9,243.4 304.1,247.6 311.1,249.0 316.7,246.2 325.1,247.6 326.5,263.0 318.1,261.6 305.5,261.6 304.1,261.6 301.3,254.6" fill="#e0b428" stroke="#f4f4f4" stroke-opacity="0.55" stroke-width="0.3"/>
<polygon points="325.1,247.6 333.5,248.3 339.2,249.0 342.0,261.6 326.5,263.0" fill="#e8a030" stroke="#f4f4f4" stroke-opacity="0.55" stroke-width="0.3"/>
<polygon points="281.6,281.3 286.6,281.3 286.6,288.3 283.0,289.7" fill="#e04858" stroke="#f4f4f4" stroke-opacity="0.55" stroke-width="0.3"/>
<polygon points="291.5,277.1 301.3,277.1 308.3,277.1 306.9,282.7 299.9,288.3 294.3,289.7 291.5,285.5" fill="#e8822a" stroke="#f4f4f4" stroke-opacity="0.55" stroke-width="0.3"/>
<polygon points="342.7,276.3 351.3,275.3 357.8,283.9 364.2,286.0 351.3,292.5 342.7,288.2" fill="#e05050" stroke="#f4f4f4" stroke-opacity="0.55" stroke-width="0.3"/>
<polygon points="342.7,290.3 351.3,292.5 355.0,294.0 353.4,303.3 347.0,303.0 342.7,298.0" fill="#e05050" stroke="#f4f4f4" stroke-opacity="0.55" stroke-width="0.3"/>
<polygon points="327.5,324.5 336.1,321.3 341.5,326.7 338.2,331.0 331.8,332.0" fill="#e05050" stroke="#f4f4f4" stroke-opacity="0.55" stroke-width="0.3"/>
<polygon points="312.4,340.7 318.8,336.4 329.6,333.1 336.1,332.0 338.2,339.6 333.9,346.1 327.5,350.4 316.7,351.5 313.4,348.2" fill="#8cc05a" stroke="#f4f4f4" stroke-opacity="0.55" stroke-width="0.3"/>
<polygon points="470.0,335.8 473.0,332.8 482.0,328.3 489.6,322.3 497.2,317.7 504.7,316.2 509.2,319.2 515.3,325.3 518.3,319.2 520.7,316.2 524.3,325.3 528.9,334.3 533.4,340.4 534.9,347.9 531.9,355.5 525.8,363.0 518.3,367.5 512.3,366.0 507.7,358.5 503.2,355.5 494.1,354.0 485.1,355.5 476.0,357.0 471.5,354.0 469.5,346.4" fill="#b4bf5a" stroke="#f4f4f4" stroke-opacity="0.55" stroke-width="0.3"/>
<polygon points="513.8,373.0 519.5,372.5 518.5,377.5 515.5,380.0 514.0,377.0" fill="#b4bf5a" stroke="#f4f4f4" stroke-opacity="0.55" stroke-width="0.3"/>
<polygon points="562.0,361.5 565.0,366.0 569.6,370.6 566.0,374.0 565.0,378.0 563.0,372.0 563.0,366.0" fill="#b4bf40" stroke="#b4bf40" stroke-width="0.8"/>
<polygon points="562.0,378.5 564.5,379.5 558.0,386.0 548.0,391.0 545.5,389.5 553.0,383.0" fill="#b4bf40" stroke="#b4bf40" stroke-width="0.8"/>
<polygon points="358.3,219.5 364.1,218.6 366.0,220.5 364.1,224.4 365.0,229.2 368.0,233.1 369.9,237.0 366.0,238.0 363.1,235.0 360.2,231.2 358.3,226.3" fill="#e6e6e6"/>
<polygon points="314.1,178.4 318.0,178.4 317.0,180.3 315.0,184.2 314.1,188.1 315.0,192.0 312.0,193.0 310.2,190.0 311.2,186.2 313.1,182.3" fill="#e6e6e6"/>
<polygon points="329.0,222.5 333.0,219.5 340.0,218.0 345.0,219.0 349.0,223.0 347.5,227.0 343.0,228.5 336.0,228.5 330.0,227.0" fill="#e6e6e6"/>
<polygon points="484.0,296.0 489.5,295.4 487.0,298.0 491.8,299.5 488.0,301.0 489.0,305.0 486.5,308.3 485.0,302.0 483.7,299.0" fill="#e05a4a" stroke="#e05a4a" stroke-width="0.5"/>
<polygon points="496.0,295.4 498.0,295.5 498.5,300.0 500.7,302.0 499.0,303.5 496.5,300.0" fill="#e05a4a" stroke="#e05a4a" stroke-width="0.5"/>
<polygon points="476.5,307.0 482.0,306.8 488.0,307.5 494.2,308.5 494.0,310.7 488.0,310.0 482.0,309.5 476.5,309.0" fill="#e05a4a" stroke="#e05a4a" stroke-width="0.5"/>
<polygon points="505.5,212.4 509.0,214.1 512.4,216.7 509.8,220.2 507.2,219.3 505.5,215.9" fill="#e8a424" stroke="#e8a424" stroke-width="1.6"/>
<polygon points="509.0,221.9 510.7,226.2 509.8,231.4 509.0,234.8 505.5,235.7 501.2,235.7 498.6,238.3 496.0,240.9 495.2,242.6 496.9,243.4 499.5,240.0 503.8,238.3 508.1,237.4 511.6,234.8 512.4,229.7 511.6,224.5" fill="#e8a424" stroke="#e8a424" stroke-width="1.6"/>
<polygon points="495.5,241.5 498.0,241.5 498.0,244.2 495.8,244.5" fill="#e8a424" stroke="#e8a424" stroke-width="1.6"/>
<polygon points="193.0,205.0 198.0,203.5 202.0,205.5 201.0,210.0 197.0,212.0 194.0,209.0" fill="#b4c25c" stroke="#f4f4f4" stroke-opacity="0.55" stroke-width="0.3"/>
<polygon points="483.3,267.5 486.5,267.0 488.0,270.0 487.5,274.0 488.5,278.8 486.0,278.0 484.5,274.5 483.5,271.0" fill="#e05a4a" stroke="#e05a4a" stroke-width="0.6"/>
<polygon points="486.5,280.0 490.0,279.5 493.0,281.5 491.5,283.5 488.0,283.0" fill="#e05a4a" stroke="#e05a4a" stroke-width="0.6"/>
<polygon points="488.5,284.0 492.0,282.6 495.0,284.0 495.0,288.0 492.0,289.0 489.5,287.0" fill="#e05a4a" stroke="#e05a4a" stroke-width="0.6"/>
<polygon points="481.0,280.0 482.5,279.5 484.5,283.0 483.5,284.0" fill="#e05a4a" stroke="#e05a4a" stroke-width="0.6"/>
<polygon points="314.0,192.5 318.9,193.0 323.8,192.3 324.5,193.8 319.0,194.8 314.5,194.5" fill="#e6e6e6"/>
</g>
<g clip-path="url(#ceu)"><ellipse cx="220" cy="106.7" rx="42.5" ry="39" fill="#d8b830"/>
<polygon points="203.2,71.4 203.0,60.0 222.0,60.0 217.7,69.6 215.9,73.2 214.0,77.8 212.2,82.3 209.5,83.2 206.8,81.4 205.0,78.7 203.2,75.0" fill="#a8c840" stroke="#f4f4f4" stroke-opacity="0.5" stroke-width="0.3"/>
<polygon points="197.7,75.0 201.0,74.0 203.2,80.0 203.2,86.8 199.0,86.8 197.5,82.0" fill="#a8c840" stroke="#f4f4f4" stroke-opacity="0.5" stroke-width="0.3"/>
<polygon points="194.1,87.7 203.2,86.8 210.4,87.7 211.3,95.9 208.6,100.4 210.4,104.0 205.9,105.9 198.6,105.0 194.1,102.2 191.4,97.7" fill="#d0c030" stroke="#f4f4f4" stroke-opacity="0.5" stroke-width="0.3"/>
<polygon points="188.7,90.5 194.1,87.7 191.4,97.7 188.0,96.8" fill="#a8c040" stroke="#f4f4f4" stroke-opacity="0.5" stroke-width="0.3"/>
<polygon points="184.0,96.0 188.0,96.8 191.4,97.7 194.1,102.2 188.0,101.0 184.0,100.0" fill="#c8c038" stroke="#f4f4f4" stroke-opacity="0.5" stroke-width="0.3"/>
<polygon points="179.6,90.5 183.2,89.0 183.5,96.8 180.0,96.8" fill="#c8c030" stroke="#f4f4f4" stroke-opacity="0.5" stroke-width="0.3"/>
<polygon points="170.0,100.4 184.0,100.0 188.0,101.0 194.1,102.2 198.6,105.0 196.0,108.0 195.9,109.4 194.1,114.9 187.8,118.5 181.4,119.4 170.0,119.4" fill="#dcb828" stroke="#f4f4f4" stroke-opacity="0.5" stroke-width="0.3"/>
<polygon points="211.3,86.8 217.7,85.0 225.0,84.5 229.8,86.8 231.6,92.3 229.8,94.1 222.0,97.7 215.9,97.7 211.3,95.9" fill="#e8642a" stroke="#f4f4f4" stroke-opacity="0.5" stroke-width="0.3"/>
<polygon points="206.8,97.7 211.3,95.9 214.0,96.8 218.6,99.5 215.9,102.2 210.4,103.1 208.6,100.4" fill="#e87a30" stroke="#f4f4f4" stroke-opacity="0.5" stroke-width="0.3"/>
<polygon points="225.2,79.6 230.7,80.5 229.8,86.8 225.0,84.5 224.0,82.0" fill="#e8a030" stroke="#f4f4f4" stroke-opacity="0.5" stroke-width="0.3"/>
<polygon points="225.2,74.2 238.8,74.2 238.8,79.6 230.7,80.5 225.2,79.6" fill="#b8c840" stroke="#f4f4f4" stroke-opacity="0.5" stroke-width="0.3"/>
<polygon points="228.9,66.0 236.1,66.0 236.1,74.2 228.9,74.2" fill="#d4c030" stroke="#f4f4f4" stroke-opacity="0.5" stroke-width="0.3"/>
<polygon points="236.0,60.0 266.0,60.0 266.0,94.0 256.0,93.2 252.4,88.6 247.0,81.4 238.8,79.6 238.8,74.2 236.1,74.2" fill="#e87830" stroke="#f4f4f4" stroke-opacity="0.5" stroke-width="0.3"/>
<polygon points="230.7,80.5 238.8,79.6 247.0,81.4 252.4,88.6 247.9,92.3 240.6,93.2 231.6,92.3 229.8,86.8" fill="#e8702a" stroke="#f4f4f4" stroke-opacity="0.5" stroke-width="0.3"/>
<polygon points="229.8,94.1 231.6,92.3 240.6,93.2 247.9,92.3 252.4,92.0 258.0,93.5 266.0,94.0 266.0,108.0 258.0,108.5 250.0,107.0 244.3,108.5 240.0,105.0 235.0,103.0 230.0,101.0 226.0,99.0 222.0,97.7" fill="#e8a830" stroke="#f4f4f4" stroke-opacity="0.5" stroke-width="0.3"/>
<polygon points="215.9,97.7 222.0,97.7 226.0,99.0 226.0,103.0 218.6,102.5 218.6,99.5" fill="#e0a030" stroke="#f4f4f4" stroke-opacity="0.5" stroke-width="0.3"/>
<polygon points="198.6,103.0 204.5,102.5 217.5,102.5 216.4,105.7 212.0,107.8 204.5,105.7 198.0,105.7" fill="#e0b030" stroke="#f4f4f4" stroke-opacity="0.5" stroke-width="0.3"/>
<polygon points="217.5,102.5 226.0,103.0 226.0,104.6 227.2,108.9 222.8,108.9 218.5,106.8 216.4,105.7" fill="#e0a030" stroke="#f4f4f4" stroke-opacity="0.5" stroke-width="0.3"/>
<polygon points="226.0,99.0 230.0,101.0 235.0,103.0 240.0,105.0 243.3,106.8 234.7,108.9 234.7,112.2 236.9,114.3 241.2,117.6 231.5,117.6 229.3,113.2 227.2,108.9 226.0,104.6" fill="#e0a830" stroke="#f4f4f4" stroke-opacity="0.5" stroke-width="0.3"/>
<polygon points="195.9,103.5 204.5,103.5 204.5,106.8 196.0,106.8" fill="#d8b830" stroke="#f4f4f4" stroke-opacity="0.5" stroke-width="0.3"/>
<polygon points="198.0,105.7 204.5,105.7 207.7,108.9 209.9,113.2 214.2,118.6 218.5,123.0 222.8,126.2 225.0,130.5 222.8,132.7 219.6,129.4 216.4,126.2 212.1,123.0 207.7,118.6 203.4,113.2 200.2,110.0" fill="#c8c030" stroke="#f4f4f4" stroke-opacity="0.5" stroke-width="0.3"/>
<polygon points="212.0,107.8 218.5,106.8 222.8,108.9 222.8,110.0 223.9,115.4 227.2,120.8 225.0,121.9 220.7,117.6 216.4,113.2 213.1,111.1" fill="#e8702a" stroke="#f4f4f4" stroke-opacity="0.5" stroke-width="0.3"/>
<polygon points="222.8,108.9 229.3,110.0 232.6,115.4 232.6,119.7 229.3,124.0 227.2,126.2 225.0,121.9 227.2,120.8 223.9,115.4 222.8,110.0" fill="#e86030" stroke="#f4f4f4" stroke-opacity="0.5" stroke-width="0.3"/>
<polygon points="231.5,117.6 241.2,117.6 242.3,121.9 236.9,124.0 231.5,124.0 232.6,119.7" fill="#a8c048" stroke="#f4f4f4" stroke-opacity="0.5" stroke-width="0.3"/>
<polygon points="228.2,126.2 229.3,124.0 231.5,124.0 236.9,124.0 239.0,127.3 234.7,130.5 233.6,134.8 231.5,138.0 229.3,133.7 228.2,129.4" fill="#e0a030" stroke="#f4f4f4" stroke-opacity="0.5" stroke-width="0.3"/>
<polygon points="242.3,124.0 247.7,123.0 256.3,123.0 262.8,121.9 268.0,121.0 268.0,146.0 252.0,146.0 252.0,141.3 246.6,138.0 243.3,132.7 242.3,128.3" fill="#c8c030" stroke="#f4f4f4" stroke-opacity="0.5" stroke-width="0.3"/>
<polygon points="170.0,60.0 203.0,60.0 203.2,71.4 203.2,75.0 201.0,74.0 197.7,75.0 197.5,82.0 199.0,86.8 194.1,87.7 188.7,90.5 188.0,96.8 184.0,96.0 183.2,89.0 179.6,90.5 180.0,96.8 184.0,100.0 170.0,100.4" fill="#ececec"/>
<polygon points="209.5,83.2 212.2,82.3 214.0,77.8 215.9,73.2 217.7,69.6 222.0,66.0 226.0,66.0 226.0,72.0 225.2,79.6 224.0,82.0 225.0,84.5 217.7,85.0 211.3,86.8 210.4,87.7 203.2,86.8 203.2,80.0" fill="#ececec"/>
<polygon points="170.0,119.7 177.5,119.7 183.0,119.7 191.6,117.6 198.0,115.4 200.2,110.0 203.4,113.2 207.7,118.6 212.1,123.0 216.4,126.2 219.6,129.4 222.8,132.7 225.0,130.5 228.2,129.4 229.3,133.7 231.5,138.0 236.0,139.0 243.3,136.0 246.6,138.0 252.0,141.3 252.0,150.0 170.0,150.0" fill="#ececec"/>
<polygon points="206.0,106.5 212.0,107.8 213.1,111.1 216.4,113.2 220.7,117.6 225.0,121.9 227.2,126.2 225.0,130.5 222.8,126.2 218.5,123.0 214.2,118.6 209.9,113.2 207.7,108.9" fill="#ececec"/>
<polygon points="234.7,108.9 243.3,106.8 256.3,107.8 262.8,111.1 262.8,119.7 256.3,121.9 247.7,121.9 242.3,121.9 241.2,117.6 236.9,114.3 234.7,112.2" fill="#ececec"/>
<polygon points="239.0,127.3 242.3,128.3 243.3,132.7 246.6,138.0 240.0,139.0 233.6,134.8 234.7,130.5" fill="#ececec"/>
<polygon points="232.6,140.2 239.0,140.2 239.0,141.7 232.6,141.7" fill="#e0a030"/>
<polygon points="198.6,124.0 201.4,124.0 201.4,129.4 198.6,129.4" fill="#c0c040"/>
<polygon points="192.3,135.7 198.6,135.3 200.5,137.5 198.6,139.8 195.0,138.9" fill="#e86030"/>
<polygon points="199.6,135.5 204.0,135.3 205.0,139.0 202.0,141.1 200.0,139.5" fill="#e8a030"/>
</g>
<ellipse cx="220" cy="106.7" rx="42.5" ry="39" fill="none" stroke="#6e6e6e" stroke-width="0.6"/>
<g clip-path="url(#cme)"><ellipse cx="418" cy="373" rx="43" ry="39.7" fill="#cfcfcf"/>
<polygon points="401.2,325.0 466.0,325.0 466.0,352.0 445.0,352.5 443.1,353.3 441.2,352.4 436.4,351.4 431.5,348.5 425.7,347.5 418.9,345.6 419.9,350.4 417.8,355.0 414.0,350.0 413.0,346.0 414.0,342.0 411.0,340.5 407.7,341.0 406.0,338.0 404.0,333.0" fill="#d4c030" stroke="#f4f4f4" stroke-opacity="0.5" stroke-width="0.3"/>
<polygon points="380.0,325.0 401.2,325.0 404.0,333.0 406.0,338.0 407.7,341.0 407.5,346.0 408.6,352.0 410.0,357.0 406.0,359.0 401.5,357.0 398.6,352.4 394.7,349.5 390.8,347.5 388.9,345.6 378.0,344.0" fill="#e8822a" stroke="#f4f4f4" stroke-opacity="0.5" stroke-width="0.3"/>
<polygon points="407.7,341.0 411.0,340.5 414.0,342.0 413.0,346.0 414.0,350.0 417.8,355.0 417.0,360.0 413.0,361.0 410.0,357.0 408.6,352.0 407.5,346.0" fill="#ececec" stroke="#f4f4f4" stroke-opacity="0.5" stroke-width="0.3"/>
<polygon points="418.9,345.6 425.7,347.5 431.5,348.5 436.4,351.4 441.2,352.4 443.1,353.3 439.3,355.3 439.3,359.2 435.4,356.3 429.6,353.3 423.8,351.4 419.9,350.4" fill="#e8702a" stroke="#f4f4f4" stroke-opacity="0.5" stroke-width="0.3"/>
<polygon points="417.8,355.0 419.9,350.4 423.8,351.4 429.6,353.3 435.4,356.3 439.3,359.2 443.1,360.1 447.0,361.0 450.0,364.0 447.0,369.0 443.1,373.7 437.3,374.7 433.4,371.8 431.5,366.0 429.6,362.0 423.8,360.1 418.0,361.1 417.0,360.0" fill="#cfcfcf" stroke="#f4f4f4" stroke-opacity="0.5" stroke-width="0.3"/>
<polygon points="401.5,358.2 406.0,359.0 410.0,357.0 413.0,361.0 417.0,360.0 418.0,361.1 423.8,360.1 429.6,362.0 431.5,366.0 433.4,371.8 437.3,374.7 434.0,381.9 428.0,382.5 422.0,381.5 416.0,380.5 411.0,379.0 409.2,378.0 406.3,371.8 404.4,366.9 402.4,362.0" fill="#e05050" stroke="#f4f4f4" stroke-opacity="0.5" stroke-width="0.3"/>
<polygon points="443.1,373.7 447.0,369.0 450.0,364.0 453.0,361.0 456.0,362.0 455.0,368.0 452.2,372.0 452.2,389.1 446.0,387.0 440.0,384.0 434.0,381.9 437.3,374.7" fill="#e8822a" stroke="#f4f4f4" stroke-opacity="0.5" stroke-width="0.3"/>
<polygon points="447.0,372.0 450.0,366.0 453.0,362.0 466.0,360.0 466.0,400.0 456.0,393.6 451.0,390.0 447.0,384.0" fill="#e6bd30" stroke="#f4f4f4" stroke-opacity="0.5" stroke-width="0.3"/>
<polygon points="370.0,353.3 385.0,353.3 390.8,352.4 394.7,352.4 398.6,355.3 400.5,358.2 397.6,361.1 390.8,362.0 385.0,362.0 370.0,362.0" fill="#d0b830" stroke="#f4f4f4" stroke-opacity="0.5" stroke-width="0.3"/>
<polygon points="370.0,346.0 388.9,345.6 390.8,347.5 394.7,349.5 398.6,352.4 394.7,352.4 390.8,352.4 385.0,353.3 370.0,353.3" fill="#ececec" stroke="#f4f4f4" stroke-opacity="0.5" stroke-width="0.3"/>
<polygon points="385.0,362.0 390.8,362.0 393.0,366.0 392.0,370.0 388.0,372.0 385.0,368.0" fill="#cfcfcf" stroke="#f4f4f4" stroke-opacity="0.5" stroke-width="0.3"/>
<polygon points="390.8,362.0 397.6,361.1 400.5,358.2 401.5,358.2 402.4,362.0 404.4,366.9 406.3,371.8 409.2,378.0 405.7,375.5 397.6,373.7 390.3,372.8 392.0,370.0 393.0,366.0" fill="#d8b830" stroke="#f4f4f4" stroke-opacity="0.5" stroke-width="0.3"/>
<polygon points="376.0,362.0 385.0,362.0 385.0,368.0 388.0,372.0 385.8,373.7 381.0,372.0 378.0,367.0" fill="#e8a030" stroke="#f4f4f4" stroke-opacity="0.5" stroke-width="0.3"/>
<polygon points="370.0,373.7 385.8,373.7 384.9,378.2 389.4,388.2 383.0,390.0 379.4,389.1 376.7,381.9 370.0,377.0" fill="#e8902a" stroke="#f4f4f4" stroke-opacity="0.5" stroke-width="0.3"/>
<polygon points="390.3,372.8 397.6,373.7 405.7,375.5 409.2,378.0 412.0,380.0 414.8,385.5 417.5,391.8 416.0,396.0 413.0,399.0 408.4,401.0 403.0,401.4 398.5,397.0 393.9,390.0 391.2,382.8 389.4,377.3" fill="#98c46a" stroke="#f4f4f4" stroke-opacity="0.5" stroke-width="0.3"/>
<polygon points="416.0,384.6 423.2,382.8 430.6,388.5 428.0,394.0 423.0,397.8 418.0,397.0 416.0,391.0" fill="#9cc870" stroke="#f4f4f4" stroke-opacity="0.5" stroke-width="0.3"/>
<polygon points="401.3,398.0 403.0,401.4 408.4,401.0 413.0,399.0 416.0,396.0 418.0,397.0 423.0,397.8 423.3,403.0 410.0,405.0 401.3,404.0" fill="#cfcfcf" stroke="#f4f4f4" stroke-opacity="0.5" stroke-width="0.3"/>
<polygon points="370.0,390.0 379.4,389.1 383.0,390.0 389.4,388.2 393.9,390.0 398.5,397.0 401.3,398.0 401.3,404.0 385.0,408.0 370.0,400.0" fill="#cfcfcf" stroke="#f4f4f4" stroke-opacity="0.5" stroke-width="0.3"/>
<polygon points="370.0,363.0 378.0,362.5 385.0,362.5 389.0,364.0 388.0,370.0 386.0,373.2 380.0,373.2 370.0,373.5" fill="#ececec"/>
<polygon points="385.8,373.7 389.4,377.3 391.2,382.8 393.9,388.2 398.5,392.7 401.0,394.5 400.0,396.0 396.0,393.0 391.0,389.5 389.4,388.2 387.0,383.0 384.9,378.2" fill="#ececec"/>
<polygon points="409.2,378.0 411.0,378.0 416.0,379.0 422.0,380.0 423.2,382.8 416.0,384.6 416.0,390.0 414.8,385.5 412.0,380.0" fill="#ececec"/>
<polygon points="423.0,397.8 428.0,394.0 430.6,388.5 434.0,381.9 440.0,384.0 446.0,387.0 452.2,389.1 456.0,393.6 466.0,400.0 466.0,420.0 400.0,420.0 410.0,405.0 423.3,403.0" fill="#ececec"/>
</g>
<ellipse cx="418" cy="373" rx="43" ry="39.7" fill="none" stroke="#6e6e6e" stroke-width="0.6"/>
<g clip-path="url(#cca)"><ellipse cx="77" cy="360" rx="43" ry="39" fill="#ececec"/>
<polygon points="43.6,343.0 50.3,344.0 49.4,350.0 45.5,353.8 41.6,356.7 37.8,356.0 34.0,357.0 34.0,352.0 38.7,350.0 40.0,345.0" fill="#d6c838" stroke="#f4f4f4" stroke-opacity="0.5" stroke-width="0.3"/>
<polygon points="36.8,354.0 41.6,356.7 45.5,355.5 45.5,362.5 41.0,362.5 37.5,359.5 34.0,359.0" fill="#e8843a" stroke="#f4f4f4" stroke-opacity="0.5" stroke-width="0.3"/>
<polygon points="45.6,357.2 58.2,358.2 57.2,360.1 50.4,362.0 47.5,362.0" fill="#d8c030" stroke="#f4f4f4" stroke-opacity="0.5" stroke-width="0.3"/>
<polygon points="49.5,361.1 57.2,360.1 58.2,364.0 56.3,367.9 52.4,367.9 50.4,364.0" fill="#cfcfcf" stroke="#f4f4f4" stroke-opacity="0.5" stroke-width="0.3"/>
<polygon points="52.4,367.9 56.3,367.9 58.2,371.8 55.3,372.7" fill="#e0c030" stroke="#f4f4f4" stroke-opacity="0.5" stroke-width="0.3"/>
<polygon points="58.2,371.8 64.0,372.7 67.9,371.8 71.8,374.7 72.6,375.9 68.9,376.6 64.0,374.7 59.2,374.7" fill="#e0a830" stroke="#f4f4f4" stroke-opacity="0.5" stroke-width="0.3"/>
<polygon points="70.7,373.0 74.0,370.0 78.0,368.0 82.3,366.7 86.2,365.4 86.2,367.6 84.3,371.5 86.2,376.4 92.0,379.3 96.9,380.7 95.9,384.1 98.8,390.0 101.7,392.0 93.0,396.5 84.3,399.3 74.6,398.5 70.7,393.0 69.5,387.0 69.0,380.0" fill="#e8702c" stroke="#f4f4f4" stroke-opacity="0.5" stroke-width="0.3"/>
<polygon points="62.0,391.9 70.7,391.9 76.5,394.8 74.6,397.7 74.0,402.0 62.0,402.0" fill="#e89830" stroke="#f4f4f4" stroke-opacity="0.5" stroke-width="0.3"/>
<polygon points="86.2,367.6 88.2,367.6 92.0,366.7 100.8,369.6 111.5,371.0 112.4,377.3 108.5,384.1 101.7,387.0 98.8,390.0 95.9,384.1 96.9,380.7 92.0,379.3 86.2,376.4 84.3,371.5" fill="#cfcfcf" stroke="#f4f4f4" stroke-opacity="0.5" stroke-width="0.3"/>
<polygon points="98.8,390.0 101.7,387.0 108.5,384.1 112.4,377.3 116.0,378.0 122.0,385.0 122.0,405.0 85.0,405.0 93.0,395.8 100.8,391.9" fill="#e07838" stroke="#f4f4f4" stroke-opacity="0.5" stroke-width="0.3"/>
<polygon points="57.2,339.3 64.0,339.3 71.8,342.0 79.5,345.6 79.0,346.8 71.0,343.8 64.0,341.0 57.5,340.6" fill="#cfcfcf" stroke="#f4f4f4" stroke-opacity="0.5" stroke-width="0.3"/>
<polygon points="71.8,350.6 75.3,350.6 75.3,351.8 71.8,351.8" fill="#e05050" stroke="#f4f4f4" stroke-opacity="0.5" stroke-width="0.3"/>
<polygon points="86.9,347.5 92.1,347.5 95.4,350.0 91.2,350.8 87.3,350.8" fill="#e8843a" stroke="#f4f4f4" stroke-opacity="0.5" stroke-width="0.3"/>
<polygon points="98.9,350.3 102.4,350.3 102.4,351.6 98.9,351.6" fill="#8cc050" stroke="#f4f4f4" stroke-opacity="0.5" stroke-width="0.3"/>
<polygon points="111.8,368.7 113.4,368.7 113.4,370.0 111.8,370.0" fill="#c0c040" stroke="#f4f4f4" stroke-opacity="0.5" stroke-width="0.3"/>
</g>
<ellipse cx="77" cy="360" rx="43" ry="39" fill="none" stroke="#6e6e6e" stroke-width="0.6"/>
<polyline class="ln" points="201.5,40.5 201.5,95.0"/>
<polyline class="ln" points="184.0,50.0 197.0,50.0 197.0,82.0"/>
<polyline class="ln" points="184.0,61.7 191.7,61.7 191.7,93.0"/>
<polyline class="ln" points="171.7,73.7 189.8,73.7 189.8,98.0"/>
<polyline class="ln" points="171.2,85.8 193.5,85.8 193.5,100.0"/>
<polyline class="ln" points="153.0,103.9 200.0,103.9"/>
<polyline class="ln" points="130.5,107.5 197.0,107.5"/>
<polyline class="ln" points="149.3,113.3 203.0,113.3"/>
<polyline class="ln" points="139.6,125.2 213.0,125.2"/>
<polyline class="ln" points="118.3,136.8 199.0,136.8"/>
<polyline class="ln" points="245.7,39.4 209.6,39.4 209.6,100.0"/>
<polyline class="ln" points="221.7,52.5 221.7,106.0"/>
<polyline class="ln" points="272.5,55.0 224.6,55.0 224.6,103.0"/>
<polyline class="ln" points="272.5,55.0 272.5,56.6"/>
<polyline class="ln" points="245.6,61.7 227.5,61.7 227.5,90.0"/>
<polyline class="ln" points="258.2,78.4 234.0,78.4"/>
<polyline class="ln" points="268.0,86.0 248.0,86.0"/>
<polyline class="ln" points="304.3,104.4 256.0,104.4"/>
<polyline class="ln" points="268.0,109.9 240.0,109.9"/>
<polyline class="ln" points="304.3,118.1 226.0,118.1"/>
<polyline class="ln" points="288.0,147.5 280.0,147.5 280.0,119.0"/>
<polyline class="ln" points="290.0,160.0 286.0,160.0 286.0,140.0"/>
<polyline class="ln" points="235.0,150.0 233.0,150.0 233.0,130.0"/>
<polyline class="ln" points="231.0,162.5 229.0,162.5 229.0,127.0"/>
<polyline class="ln" points="219.0,174.0 224.0,174.0 224.0,120.0"/>
<polyline class="ln" points="216.8,140.0 216.8,172.0"/>
<polyline class="ln" points="209.5,168.0 209.5,185.0"/>
<polyline class="ln" points="297.0,163.7 297.0,183.0"/>
<polyline class="ln" points="312.8,140.0 312.8,166.0"/>
<polyline class="ln" points="319.0,156.0 319.0,176.0"/>
<polyline class="ln" points="239.4,206.4 273.6,206.4"/>
<polyline class="ln" points="255.6,217.2 290.0,217.2"/>
<polyline class="ln" points="238.8,222.0 306.0,222.0"/>
<polyline class="ln" points="231.7,228.6 300.0,228.6"/>
<polyline class="ln" points="265.9,233.8 272.4,233.8"/>
<polyline class="ln" points="244.6,246.4 272.4,246.4"/>
<polyline class="ln" points="249.0,258.4 300.0,258.4"/>
<polyline class="ln" points="249.0,270.0 290.0,270.0"/>
<polyline class="ln" points="249.0,282.3 295.0,282.3"/>
<polyline class="ln" points="260.0,295.2 284.0,295.2 284.0,289.0"/>
<polyline class="ln" points="260.4,302.0 289.4,302.0 289.4,297.0"/>
<polyline class="ln" points="285.6,309.3 295.2,309.3 295.2,300.0"/>
<polyline class="ln" points="295.9,327.8 330.0,327.8"/>
<polyline class="ln" points="303.6,347.2 322.0,347.2"/>
<polyline class="ln" points="105.8,266.0 117.5,266.0"/>
<polyline class="ln" points="140.7,288.3 158.8,288.3"/>
<polyline class="ln" points="138.8,300.5 156.0,300.5"/>
<polyline class="ln" points="150.2,310.4 160.0,310.4"/>
<polyline class="ln" points="156.0,323.1 177.0,323.1"/>
<polyline class="ln" points="156.7,335.8 174.0,335.8"/>
<polyline class="ln" points="128.0,350.9 102.0,350.9"/>
<polyline class="ln" points="128.1,369.3 112.6,369.3"/>
<polyline class="ln" points="208.3,339.0 216.7,339.0"/>
<polyline class="ln" points="203.1,351.3 216.7,351.3"/>
<polyline class="ln" points="185.0,368.8 198.0,368.8"/>
<polyline class="ln" points="89.6,302.0 89.6,348.5"/>
<polyline class="ln" points="50.8,318.4 50.8,358.0"/>
<polyline class="ln" points="41.7,331.0 41.7,356.0"/>
<polyline class="ln" points="45.6,360.0 45.6,392.9"/>
<polyline class="ln" points="56.6,370.0 56.6,407.8"/>
<polyline class="ln" points="73.3,352.0 73.3,408.0"/>
<polyline class="ln" points="62.5,374.0 62.5,421.4"/>
<polyline class="ln" points="407.6,395.0 407.6,415.7"/>
<polyline class="ln" points="415.6,395.0 415.6,419.9 420.0,419.9"/>
<polyline class="ln" points="333.4,370.8 368.0,370.8"/>
<polyline class="ln" points="358.3,366.3 377.9,366.3"/>
<polyline class="ln" points="331.0,378.4 368.8,378.4 368.8,372.0"/>
<polyline class="ln" points="364.3,383.7 377.9,383.7"/>
<polyline class="ln" points="376.4,395.0 390.0,395.0"/>
<polyline class="ln" points="457.6,404.8 426.0,404.8 426.0,386.4"/>
<polyline class="ln" points="466.0,386.4 426.0,386.4"/>
<polyline class="ln" points="467.0,371.0 448.0,371.0"/>
<polyline class="ln" points="471.6,265.5 537.9,265.5"/>
<polyline class="ln" points="397.8,293.4 397.8,286.5 416.7,286.5"/>
<polyline class="ln" points="379.7,315.5 379.7,330.0"/>
<polyline class="ln" points="424.5,307.2 434.8,307.2 434.8,270.0"/>
<polyline class="ln" points="430.5,327.0 430.5,347.0"/>
<polyline class="ln" points="389.0,334.8 397.7,334.8 397.7,340.0"/>
<polyline class="ln" points="439.4,310.0 439.4,295.6 448.4,295.6"/>
<polyline class="ln" points="473.2,287.0 473.2,292.0"/>
<polyline class="ln" points="473.2,287.0 514.4,287.0"/>
<polyline class="ln" points="484.5,258.0 515.0,258.0"/>
<polyline class="ln" points="492.0,233.5 515.0,233.5"/>
<polyline class="ln" points="511.0,222.5 515.0,222.5"/>
<text class="n" x="179.5" y="39.5" textLength="22.33" lengthAdjust="spacingAndGlyphs">GERMANY</text>
<text class="v" x="179.5" y="44.6">6.83%</text>
<text class="n" x="160" y="51.0" textLength="22.08" lengthAdjust="spacingAndGlyphs">DENMARK</text>
<text class="v" x="160" y="56.3">8.72%</text>
<text class="n" x="148.4" y="63.0" textLength="32.88" lengthAdjust="spacingAndGlyphs">NETHERLANDS</text>
<text class="v" x="148.4" y="68.3">8.39%</text>
<text class="n" x="148.4" y="75.3" textLength="19.88" lengthAdjust="spacingAndGlyphs">BELGIUM</text>
<text class="v" x="148.4" y="80.5">8.55%</text>
<text class="n" x="137" y="87.1" textLength="31.41" lengthAdjust="spacingAndGlyphs">LUXEMBOURG</text>
<text class="v" x="137" y="92.3">4.49%</text>
<text class="n" x="137" y="99.4" textLength="19.14" lengthAdjust="spacingAndGlyphs">AUSTRIA</text>
<text class="v" x="137" y="104.5">5.44%</text>
<text class="n" x="100.2" y="113.3" textLength="31.65" lengthAdjust="spacingAndGlyphs">SWITZERLAND</text>
<text class="v" x="100.2" y="118.5">7.17%</text>
<text class="n" x="137" y="113.3" textLength="11.62" lengthAdjust="spacingAndGlyphs">ITALY</text>
<text class="v" x="137" y="118.5">6.97%</text>
<text class="n" x="118.3" y="126.3" textLength="19.30" lengthAdjust="spacingAndGlyphs">CROATIA</text>
<text class="v" x="118.3" y="131.4">4.22%</text>
<text class="n" x="100.2" y="134.0" textLength="14.07" lengthAdjust="spacingAndGlyphs">MALTA</text>
<text class="v" x="100.2" y="139">4.29%</text>
<text class="n" x="220.7" y="46.2" textLength="22.00" lengthAdjust="spacingAndGlyphs">HUNGARY</text>
<text class="v" x="220.7" y="51.5">5.52%</text>
<text class="n" x="250.1" y="40.9" textLength="15.21" lengthAdjust="spacingAndGlyphs">CZECH</text>
<text class="n" x="250.1" y="46.0" textLength="22.09" lengthAdjust="spacingAndGlyphs">REPUBLIC</text>
<text class="v" x="250.1" y="51.2">4.39%</text>
<text class="n" x="247.7" y="63.2" textLength="18.16" lengthAdjust="spacingAndGlyphs">POLAND</text>
<text class="v" x="247.7" y="68.5">3.80%</text>
<text class="n" x="272" y="63.2" textLength="21.52" lengthAdjust="spacingAndGlyphs">SLOVAKIA</text>
<text class="v" x="272" y="68.5">5.25%</text>
<text class="n" x="261" y="75.6" textLength="23.07" lengthAdjust="spacingAndGlyphs">LITHUANIA</text>
<text class="v" x="261" y="80.8">5.43%</text>
<text class="n" x="269.9" y="87.5" textLength="20.62" lengthAdjust="spacingAndGlyphs">BELARUS</text>
<text class="v" x="269.9" y="92.7">3.79%</text>
<text class="n" x="296.1" y="87.5" textLength="19.63" lengthAdjust="spacingAndGlyphs">UKRAINE</text>
<text class="v" x="296.1" y="92.7">5.42%</text>
<text class="n" x="307" y="106.0" textLength="21.76" lengthAdjust="spacingAndGlyphs">MOLDOVA</text>
<text class="v" x="307" y="111.3">5.58%</text>
<text class="n" x="269.9" y="111.5" textLength="20.61" lengthAdjust="spacingAndGlyphs">ROMANIA</text>
<text class="v" x="269.9" y="116.8">5.92%</text>
<text class="n" x="307.5" y="119.6" textLength="16.20" lengthAdjust="spacingAndGlyphs">SERBIA</text>
<text class="v" x="307.5" y="124.9">3.82%</text>
<text class="n" x="272" y="136.7" textLength="22.33" lengthAdjust="spacingAndGlyphs">BULGARIA</text>
<text class="v" x="272" y="142">7.72%</text>
<text class="n" x="236.1" y="151.0" textLength="18.65" lengthAdjust="spacingAndGlyphs">GREECE</text>
<text class="v" x="236.1" y="156.2">6.00%</text>
<text class="n" x="258" y="150.8" textLength="15.62" lengthAdjust="spacingAndGlyphs">NORTH</text>
<text class="n" x="258" y="156.1" textLength="26.74" lengthAdjust="spacingAndGlyphs">MACEDONIA</text>
<text class="v" x="258" y="161.3">4.85%</text>
<text class="n" x="290.2" y="150.8" textLength="19.14" lengthAdjust="spacingAndGlyphs">KOSOVO</text>
<text class="v" x="290.2" y="156.1">5.84%</text>
<text class="n" x="290.2" y="161.6" textLength="19.30" lengthAdjust="spacingAndGlyphs">NORWAY</text>
<text class="v" x="290.2" y="166.9">7.44%</text>
<text class="n" x="232.5" y="163.9" textLength="18.65" lengthAdjust="spacingAndGlyphs">ALBANIA</text>
<text class="v" x="232.5" y="168.9">4.28%</text>
<text class="n" x="258" y="166.6" textLength="19.14" lengthAdjust="spacingAndGlyphs">ICELAND</text>
<text class="v" x="258" y="171.8">9.81%</text>
<text class="n" x="220" y="175.1" textLength="32.14" lengthAdjust="spacingAndGlyphs">MONTENEGRO</text>
<text class="v" x="220" y="180.2">4.19%</text>
<text class="n" x="201.5" y="188.4" textLength="26.75" lengthAdjust="spacingAndGlyphs">BOSNIA AND</text>
<text class="n" x="201.5" y="193.4" textLength="32.14" lengthAdjust="spacingAndGlyphs">HERZEGOVINA</text>
<text class="v" x="201.5" y="198.5">5.59%</text>
<text class="n" x="241.3" y="193.3" textLength="38.76" lengthAdjust="spacingAndGlyphs">UNITED KINGDOM</text>
<text class="v" x="241.3" y="198.5">6.63%</text>
<text class="n" x="219.6" y="207.7" textLength="19.14" lengthAdjust="spacingAndGlyphs">IRELAND</text>
<text class="v" x="219.6" y="212.8">9.06%</text>
<text class="n" x="241.1" y="212.9" textLength="18.16" lengthAdjust="spacingAndGlyphs">FRANCE</text>
<text class="v" x="241.1" y="218.2">6.37%</text>
<text class="n" x="214.2" y="223.1" textLength="22.09" lengthAdjust="spacingAndGlyphs">SLOVENIA</text>
<text class="v" x="214.2" y="228.2">5.36%</text>
<text class="n" x="220" y="235.3" textLength="12.93" lengthAdjust="spacingAndGlyphs">SPAIN</text>
<text class="v" x="220" y="240.5">6.59%</text>
<text class="n" x="241.1" y="235.3" textLength="24.21" lengthAdjust="spacingAndGlyphs">PORTUGAL</text>
<text class="v" x="241.1" y="240.5">4.71%</text>
<text class="n" x="220" y="247.7" textLength="23.55" lengthAdjust="spacingAndGlyphs">MOROCCO</text>
<text class="v" x="220" y="252.7">4.70%</text>
<text class="n" x="228.7" y="260.3" textLength="17.42" lengthAdjust="spacingAndGlyphs">TUNISIA</text>
<text class="v" x="228.7" y="265.3">5.17%</text>
<text class="n" x="228.7" y="271.8" textLength="19.14" lengthAdjust="spacingAndGlyphs">ALGERIA</text>
<text class="v" x="228.7" y="276.9">3.41%</text>
<text class="n" x="228.7" y="283.8" textLength="18.16" lengthAdjust="spacingAndGlyphs">NIGERIA</text>
<text class="v" x="228.7" y="289">3.84%</text>
<text class="n" x="241.1" y="296.3" textLength="15.70" lengthAdjust="spacingAndGlyphs">GHANA</text>
<text class="v" x="241.1" y="301.4">0.67%</text>
<text class="n" x="241" y="310.6" textLength="20.61" lengthAdjust="spacingAndGlyphs">ETHIOPIA</text>
<text class="v" x="241" y="315.8">2.27%</text>
<text class="n" x="269" y="311.0" textLength="14.64" lengthAdjust="spacingAndGlyphs">KENYA</text>
<text class="v" x="269" y="316.3">2.36%</text>
<text class="n" x="269.4" y="329.5" textLength="23.55" lengthAdjust="spacingAndGlyphs">ZIMBABWE</text>
<text class="v" x="269.4" y="334.8">2.69%</text>
<text class="n" x="269.4" y="348.4" textLength="32.63" lengthAdjust="spacingAndGlyphs">SOUTH AFRICA</text>
<text class="v" x="269.4" y="353.6">18.17%</text>
<text class="n" x="321" y="143.3" textLength="19.38" lengthAdjust="spacingAndGlyphs">SWEDEN</text>
<text class="v" x="321" y="148.5">7.80%</text>
<text class="n" x="324.3" y="154.9" textLength="18.89" lengthAdjust="spacingAndGlyphs">FINLAND</text>
<text class="v" x="324.3" y="160.2">7.36%</text>
<text class="n" x="338.3" y="184.4" textLength="19.30" lengthAdjust="spacingAndGlyphs">ESTONIA</text>
<text class="v" x="338.3" y="189.5">6.36%</text>
<text class="n" x="338.3" y="194.9" textLength="14.89" lengthAdjust="spacingAndGlyphs">LATVIA</text>
<text class="v" x="338.3" y="200.1">7.55%</text>
<text class="n" x="358.5" y="194.9" textLength="20.12" lengthAdjust="spacingAndGlyphs">ARMENIA</text>
<text class="v" x="358.5" y="200.1">3.52%</text>
<text class="n" x="338.3" y="205.5" textLength="17.91" lengthAdjust="spacingAndGlyphs">TURKEY</text>
<text class="v" x="338.3" y="210.8">6.88%</text>
<text class="n" x="409.1" y="177.0" textLength="16.44" lengthAdjust="spacingAndGlyphs">RUSSIA</text>
<text class="v" x="409.1" y="182.5">3.92%</text>
<text class="n" x="379.5" y="211.1" textLength="29.12" lengthAdjust="spacingAndGlyphs">KAZAKHSTAN</text>
<text class="v" x="379.5" y="216.3">6.32%</text>
<text class="n" x="419.1" y="237.8" textLength="14.15" lengthAdjust="spacingAndGlyphs">NEPAL</text>
<text class="v" x="419.1" y="243">2.65%</text>
<text class="n" x="437.7" y="231.9" textLength="13.74" lengthAdjust="spacingAndGlyphs">CHINA</text>
<text class="v" x="437.7" y="237.3">2.15%</text>
<text class="n" x="455" y="249.8" textLength="19.63" lengthAdjust="spacingAndGlyphs">VIETNAM</text>
<text class="v" x="455" y="255">3.04%</text>
<text class="n" x="408.8" y="259.8" textLength="11.78" lengthAdjust="spacingAndGlyphs">INDIA</text>
<text class="v" x="408.8" y="265">5.87%</text>
<text class="n" x="367.1" y="243.6" textLength="10.55" lengthAdjust="spacingAndGlyphs">IRAN</text>
<text class="v" x="367.1" y="249">1.72%</text>
<text class="n" x="382.3" y="272.0" textLength="19.63" lengthAdjust="spacingAndGlyphs">BAHRAIN</text>
<text class="v" x="382.3" y="276.9">8.23%</text>
<text class="n" x="375.2" y="284.1" textLength="14.97" lengthAdjust="spacingAndGlyphs">EGYPT</text>
<text class="v" x="375.2" y="289.3">4.96%</text>
<text class="n" x="375.2" y="296.8" textLength="23.07" lengthAdjust="spacingAndGlyphs">SRI LANKA</text>
<text class="v" x="375.2" y="301.9">1.33%</text>
<text class="n" x="375.2" y="308.7" textLength="24.29" lengthAdjust="spacingAndGlyphs">MAURITIUS</text>
<text class="v" x="375.2" y="313.9">8.31%</text>
<text class="n" x="402" y="296.8" textLength="30.19" lengthAdjust="spacingAndGlyphs">BANGLADESH</text>
<text class="v" x="402" y="301.9">4.14%</text>
<text class="n" x="402" y="308.7" textLength="21.84" lengthAdjust="spacingAndGlyphs">THAILAND</text>
<text class="v" x="402" y="313.9">2.74%</text>
<text class="n" x="435" y="313.5" textLength="26.26" lengthAdjust="spacingAndGlyphs">SINGAPORE</text>
<text class="v" x="435" y="318.7">3.38%</text>
<text class="n" x="464.7" y="318.7" textLength="24.29" lengthAdjust="spacingAndGlyphs">INDONESIA</text>
<text class="v" x="464.7" y="324">2.68%</text>
<text class="n" x="402" y="325.2" textLength="27.24" lengthAdjust="spacingAndGlyphs">AZERBAIJAN</text>
<text class="v" x="402" y="330.4">3.37%</text>
<text class="n" x="434.6" y="328.0" textLength="27.40" lengthAdjust="spacingAndGlyphs">UZBEKISTAN</text>
<text class="v" x="434.6" y="333.3">3.58%</text>
<text class="n" x="374.9" y="336.6" textLength="10.80" lengthAdjust="spacingAndGlyphs">IRAQ</text>
<text class="v" x="374.9" y="341.8">6.42%</text>
<text class="n" x="516.8" y="224.0" textLength="13.91" lengthAdjust="spacingAndGlyphs">JAPAN</text>
<text class="v" x="516.8" y="229.2">5.13%</text>
<text class="n" x="516.8" y="235.6" textLength="32.14" lengthAdjust="spacingAndGlyphs">SOUTH KOREA</text>
<text class="v" x="516.8" y="240.9">2.12%</text>
<text class="n" x="516.8" y="258.8" textLength="16.68" lengthAdjust="spacingAndGlyphs">TAIWAN</text>
<text class="v" x="516.8" y="264">2.72%</text>
<text class="n" x="540.3" y="267.1" textLength="27.48" lengthAdjust="spacingAndGlyphs">HONG KONG</text>
<text class="v" x="540.3" y="272.4">1.36%</text>
<text class="n" x="496.2" y="276.8" textLength="27.24" lengthAdjust="spacingAndGlyphs">PHILIPPINES</text>
<text class="v" x="496.2" y="281.8">1.98%</text>
<text class="n" x="516.8" y="288.1" textLength="21.76" lengthAdjust="spacingAndGlyphs">MALAYSIA</text>
<text class="v" x="516.8" y="293.5">6.26%</text>
<text class="n" x="491.7" y="339.8" textLength="24.54" lengthAdjust="spacingAndGlyphs">AUSTRALIA</text>
<text class="v" x="491.7" y="345">8.40%</text>
<text class="n" x="566" y="385.6" textLength="31.90" lengthAdjust="spacingAndGlyphs">NEW ZEALAND</text>
<text class="v" x="566" y="391">7.68%</text>
<text class="n" x="468.5" y="372.1" textLength="21.19" lengthAdjust="spacingAndGlyphs">PAKISTAN</text>
<text class="v" x="468.5" y="377.5">4.40%</text>
<text class="n" x="468.5" y="386.8" textLength="29.45" lengthAdjust="spacingAndGlyphs">UNITED ARAB</text>
<text class="n" x="468.5" y="392.2" textLength="22.25" lengthAdjust="spacingAndGlyphs">EMIRATES</text>
<text class="v" x="468.5" y="397.7">13.59%</text>
<text class="n" x="459" y="406.0" textLength="13.25" lengthAdjust="spacingAndGlyphs">OMAN</text>
<text class="v" x="459" y="411.2">11.71%</text>
<text class="n" x="390.4" y="421.2" textLength="17.01" lengthAdjust="spacingAndGlyphs">KUWAIT</text>
<text class="v" x="390.4" y="426.3">4.70%</text>
<text class="n" x="423.1" y="421.2" textLength="14.56" lengthAdjust="spacingAndGlyphs">QATAR</text>
<text class="v" x="423.1" y="426.3">9.47%</text>
<text class="n" x="353.3" y="350.4" textLength="18.40" lengthAdjust="spacingAndGlyphs">CYPRUS</text>
<text class="v" x="353.3" y="355.5">9.55%</text>
<text class="n" x="315.3" y="363.7" textLength="23.97" lengthAdjust="spacingAndGlyphs">PALESTINE</text>
<text class="v" x="315.3" y="369.1">12.73%</text>
<text class="n" x="343.5" y="363.7" textLength="21.11" lengthAdjust="spacingAndGlyphs">LEBANON</text>
<text class="v" x="343.5" y="369.1">5.11%</text>
<text class="n" x="315.3" y="376.1" textLength="15.71" lengthAdjust="spacingAndGlyphs">ISRAEL</text>
<text class="v" x="315.3" y="381.4">4.62%</text>
<text class="n" x="343.9" y="384.9" textLength="18.16" lengthAdjust="spacingAndGlyphs">JORDAN</text>
<text class="v" x="343.9" y="390.2">7.54%</text>
<text class="n" x="343.5" y="396.5" textLength="30.68" lengthAdjust="spacingAndGlyphs">SAUDI ARABIA</text>
<text class="v" x="343.5" y="401.8">22.42%</text>
<text class="n" x="106" y="182.0" textLength="18.40" lengthAdjust="spacingAndGlyphs">CANADA</text>
<text class="v" x="106" y="187.5">8.53%</text>
<text class="n" x="106.3" y="230.3" textLength="34.19" lengthAdjust="spacingAndGlyphs">UNITED STATES</text>
<text class="v" x="106.3" y="235.6">15.01%</text>
<text class="n" x="86.2" y="267.3" textLength="17.42" lengthAdjust="spacingAndGlyphs">MEXICO</text>
<text class="v" x="86.2" y="272.5">6.85%</text>
<text class="n" x="114.2" y="289.6" textLength="23.31" lengthAdjust="spacingAndGlyphs">COLOMBIA</text>
<text class="v" x="114.2" y="294.6">3.62%</text>
<text class="n" x="114.2" y="301.8" textLength="22.08" lengthAdjust="spacingAndGlyphs">ECUADOR</text>
<text class="v" x="114.2" y="306.8">4.54%</text>
<text class="n" x="135.7" y="311.7" textLength="12.27" lengthAdjust="spacingAndGlyphs">PERU</text>
<text class="v" x="135.7" y="316.9">3.15%</text>
<text class="n" x="135.7" y="324.4" textLength="17.18" lengthAdjust="spacingAndGlyphs">BOLIVIA</text>
<text class="v" x="135.7" y="329.6">6.14%</text>
<text class="n" x="141.6" y="337.1" textLength="13.01" lengthAdjust="spacingAndGlyphs">CHILE</text>
<text class="v" x="141.6" y="342.3">3.43%</text>
<text class="n" x="130.8" y="352.2" textLength="30.51" lengthAdjust="spacingAndGlyphs">PUERTO RICO</text>
<text class="v" x="130.8" y="357.4">14.47%</text>
<text class="n" x="130.7" y="370.6" textLength="20.85" lengthAdjust="spacingAndGlyphs">TRINIDAD</text>
<text class="n" x="130.7" y="375.8" textLength="29.28" lengthAdjust="spacingAndGlyphs">AND TOBAGO</text>
<text class="v" x="130.7" y="381">7.52%</text>
<text class="n" x="198.2" y="314.5" textLength="15.46" lengthAdjust="spacingAndGlyphs">BRAZIL</text>
<text class="v" x="198.2" y="319.9">3.68%</text>
<text class="n" x="219.3" y="340.3" textLength="23.89" lengthAdjust="spacingAndGlyphs">PARAGUAY</text>
<text class="v" x="219.3" y="345.5">3.70%</text>
<text class="n" x="219.3" y="352.3" textLength="21.76" lengthAdjust="spacingAndGlyphs">URUGUAY</text>
<text class="v" x="219.3" y="357.6">3.28%</text>
<text class="n" x="200.3" y="370.4" textLength="25.76" lengthAdjust="spacingAndGlyphs">ARGENTINA</text>
<text class="v" x="200.3" y="375.7">2.22%</text>
<text class="n" x="62.5" y="300.6" textLength="25.27" lengthAdjust="spacingAndGlyphs">DOMINICAN</text>
<text class="n" x="62.5" y="305.9" textLength="22.09" lengthAdjust="spacingAndGlyphs">REPUBLIC</text>
<text class="v" x="62.5" y="311.1">4.54%</text>
<text class="n" x="24.8" y="315.9" textLength="25.27" lengthAdjust="spacingAndGlyphs">HONDURAS</text>
<text class="v" x="24.8" y="321.1">5.98%</text>
<text class="n" x="14" y="328.7" textLength="26.91" lengthAdjust="spacingAndGlyphs">GUATEMALA</text>
<text class="v" x="14" y="334">4.29%</text>
<text class="n" x="15.9" y="397.2" textLength="29.86" lengthAdjust="spacingAndGlyphs">EL SALVADOR</text>
<text class="v" x="15.9" y="402.5">3.83%</text>
<text class="n" x="32.6" y="412.1" textLength="26.42" lengthAdjust="spacingAndGlyphs">COSTA RICA</text>
<text class="v" x="32.6" y="417.4">5.93%</text>
<text class="n" x="73.3" y="412.1" textLength="19.14" lengthAdjust="spacingAndGlyphs">JAMAICA</text>
<text class="v" x="73.3" y="417.4">1.63%</text>
<text class="n" x="62.5" y="424.9" textLength="18.32" lengthAdjust="spacingAndGlyphs">PANAMA</text>
<text class="v" x="62.5" y="430.1">5.12%</text>
<text class="n" x="307.1" y="253.3" textLength="12.19" lengthAdjust="spacingAndGlyphs">LIBYA</text>
<text class="v" x="307.1" y="258.5">5.86%</text>
<text x="225.6" y="21.4" font-family="'Liberation Sans',sans-serif" font-size="12.9" font-weight="bold" fill="#333" textLength="404.5" lengthAdjust="spacingAndGlyphs">The cost of homes in relation to average salaries around the world</text>
<text x="631" y="37.2" text-anchor="end" font-family="'Liberation Sans',sans-serif" font-size="7.1" fill="#555" stroke="#555" stroke-width="0.18" textLength="311.3" lengthAdjust="spacingAndGlyphs">To show the most and least affordable places to buy a home in the world, we mapped each</text>
<text x="631" y="44.8" text-anchor="end" font-family="'Liberation Sans',sans-serif" font-size="7.1" fill="#555" stroke="#555" stroke-width="0.18" textLength="298.8" lengthAdjust="spacingAndGlyphs">country&#8217;s average annual salary as a percentage of the average cost of a 100sqm home.</text>
<text x="221" y="445" font-family="'Liberation Sans',sans-serif" font-size="4.6" font-weight="bold" fill="#333">No Data</text>
<rect x="221" y="448.3" width="21.2" height="7.6" fill="#c9c9c9"/>
<text x="251.4" y="445" font-family="'Liberation Sans',sans-serif" font-size="4.6" font-weight="bold" fill="#333">Most Affordable</text>
<text x="431" y="445" text-anchor="end" font-family="'Liberation Sans',sans-serif" font-size="4.6" font-weight="bold" fill="#333">Least Affordable</text>
<rect x="250.9" y="448.3" width="180.4" height="7.9" fill="url(#lg)"/>
<text x="252.8" y="454" font-family="'Liberation Sans',sans-serif" font-size="4.6" font-weight="bold" fill="#333" stroke="#333" stroke-width="0.1">22.42%</text>
<text x="430.2" y="454" text-anchor="end" font-family="'Liberation Sans',sans-serif" font-size="4.6" font-weight="bold" fill="#333" stroke="#333" stroke-width="0.1">0.67%</text>
<polygon points="518.8,442.4 531.8,430.1 541.8,439.3 538.4,442 532,436.7 521.4,445" fill="#3d3d3f"/>
<rect x="537.6" y="432.6" width="2.6" height="4" fill="#3d3d3f"/>
<polygon points="523.7,446.9 526.6,443.6 533.9,449.9 533.5,455.6" fill="#3cb04a"/>
<polygon points="533.9,449.9 543.7,441.2 546.7,443.1 533.5,455.6" fill="#23904a"/>
<text x="552.2" y="445.4" font-family="'Liberation Sans',sans-serif" font-size="15.4" font-weight="bold" fill="#3daa4a" textLength="78" lengthAdjust="spacingAndGlyphs">ROOFING</text>
<text x="552.3" y="453.3" font-family="'Liberation Sans',sans-serif" font-size="8.6" font-weight="bold" fill="#444" stroke="#444" stroke-width="0.2" textLength="65" lengthAdjust="spacingAndGlyphs">megastore.co.uk</text>
</svg></body></html>
